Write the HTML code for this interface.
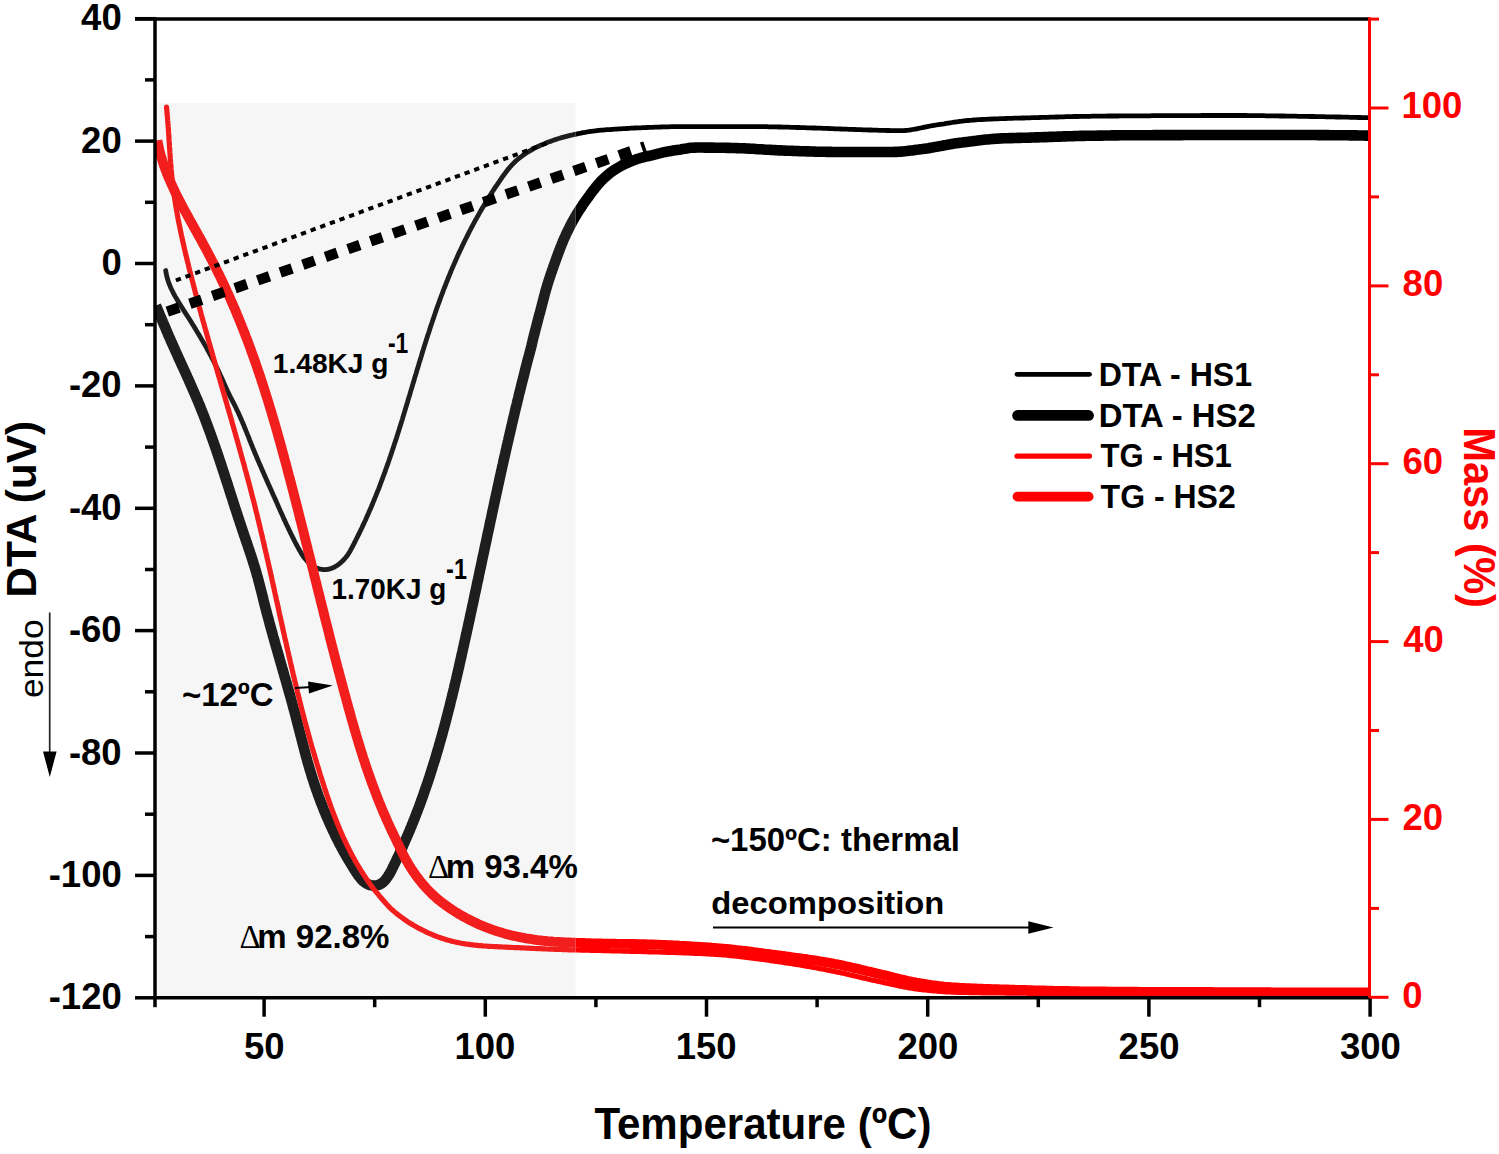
<!DOCTYPE html>
<html><head><meta charset="utf-8"><style>
html,body{margin:0;padding:0;background:#fff;width:1499px;height:1154px;overflow:hidden}
svg{display:block}
</style></head><body>
<svg width="1499" height="1154" viewBox="0 0 1499 1154">
<defs><clipPath id="cin"><rect x="155" y="103" width="420.5" height="895"/></clipPath><clipPath id="cout"><path d="M155,0H1370V998H155Z M155,103V998H575.5V103Z" clip-rule="evenodd"/></clipPath></defs>
<rect width="1499" height="1154" fill="#fff"/>
<rect x="155" y="103" width="420.5" height="895" fill="#f6f6f6"/>
<path d="M165.7,270.5 L166.0,272.5 L166.4,274.4 L166.8,276.4 L167.3,278.3 L167.9,280.2 L168.5,282.1 L169.2,284.0 L170.0,285.8 L170.7,287.7 L171.6,289.5 L172.5,291.3 L173.4,293.1 L174.3,294.8 L175.3,296.6 L176.3,298.3 L177.3,300.0 L178.3,301.7 L179.4,303.5 L180.4,305.2 L181.5,306.8 L182.6,308.5 L183.6,310.2 L184.7,311.9 L185.8,313.6 L186.9,315.3 L188.0,317.0 L189.0,318.6 L190.1,320.3 L191.2,322.0 L192.2,323.7 L193.3,325.4 L194.3,327.1 L195.4,328.8 L196.4,330.6 L197.4,332.3 L198.5,334.0 L199.5,335.7 L200.5,337.4 L201.5,339.2 L202.5,340.9 L203.5,342.6 L204.5,344.4 L205.5,346.1 L206.5,347.8 L207.4,349.6 L208.4,351.3 L209.4,353.1 L210.3,354.9 L211.3,356.6 L212.2,358.4 L213.1,360.2 L214.0,361.9 L214.9,363.7 L215.8,365.5 L216.7,367.3 L217.6,369.1 L218.4,370.9 L219.3,372.7 L220.1,374.6 L220.9,376.4 L221.8,378.2 L222.6,380.0 L223.4,381.9 L224.2,383.7 L225.0,385.5 L225.8,387.3 L226.7,389.2 L227.5,391.0 L228.4,392.8 L229.2,394.6 L230.1,396.4 L231.0,398.2 L231.9,399.9 L232.8,401.7 L233.8,403.5 L234.7,405.3 L235.6,407.1 L236.4,408.9 L237.3,410.7 L238.2,412.5 L239.0,414.3 L239.8,416.1 L240.6,418.0 L241.4,419.8 L242.2,421.6 L243.0,423.5 L243.8,425.3 L244.5,427.2 L245.3,429.0 L246.0,430.9 L246.8,432.7 L247.5,434.6 L248.3,436.4 L249.0,438.3 L249.7,440.2 L250.5,442.0 L251.2,443.9 L252.0,445.7 L252.7,447.6 L253.5,449.5 L254.2,451.3 L255.0,453.2 L255.8,455.0 L256.5,456.8 L257.3,458.7 L258.1,460.5 L258.9,462.4 L259.7,464.2 L260.5,466.0 L261.3,467.9 L262.1,469.7 L262.9,471.5 L263.7,473.4 L264.5,475.2 L265.3,477.0 L266.1,478.9 L266.9,480.7 L267.7,482.5 L268.5,484.3 L269.4,486.2 L270.2,488.0 L271.0,489.8 L271.8,491.6 L272.6,493.5 L273.4,495.3 L274.3,497.1 L275.1,499.0 L275.9,500.8 L276.7,502.6 L277.5,504.4 L278.3,506.3 L279.1,508.1 L279.9,509.9 L280.7,511.8 L281.6,513.6 L282.4,515.4 L283.2,517.2 L284.0,519.1 L284.9,520.9 L285.7,522.7 L286.5,524.5 L287.4,526.3 L288.2,528.1 L289.1,529.9 L290.0,531.7 L290.8,533.5 L291.7,535.3 L292.6,537.1 L293.5,538.9 L294.4,540.7 L295.3,542.5 L296.2,544.3 L297.2,546.0 L298.1,547.8 L299.1,549.5 L300.1,551.3 L301.1,553.0 L302.1,554.7 L303.2,556.4 L304.4,558.0 L305.7,559.5 L307.0,561.0 L308.4,562.4 L309.8,563.8 L311.4,565.0 L313.0,566.1 L314.7,567.1 L316.5,567.9 L318.3,568.6 L320.2,569.1 L322.1,569.5 L324.1,569.6 L326.0,569.5 L327.9,569.3 L329.8,568.9 L331.7,568.2 L333.5,567.5 L335.3,566.6 L337.0,565.5 L338.6,564.4 L340.1,563.2 L341.6,561.9 L343.0,560.5 L344.4,559.0 L345.7,557.5 L346.9,556.0 L348.1,554.3 L349.1,552.7 L350.2,550.9 L351.1,549.2 L352.1,547.4 L353.0,545.6 L353.9,543.9 L354.8,542.1 L355.7,540.3 L356.6,538.5 L357.5,536.7 L358.4,534.9 L359.3,533.1 L360.2,531.3 L361.0,529.5 L361.9,527.7 L362.7,525.9 L363.6,524.1 L364.4,522.3 L365.3,520.5 L366.1,518.6 L366.9,516.8 L367.7,515.0 L368.5,513.2 L369.3,511.3 L370.1,509.5 L370.9,507.7 L371.7,505.8 L372.5,504.0 L373.2,502.1 L374.0,500.3 L374.7,498.4 L375.5,496.6 L376.2,494.7 L377.0,492.9 L377.7,491.0 L378.5,489.1 L379.2,487.3 L379.9,485.4 L380.6,483.5 L381.3,481.7 L382.0,479.8 L382.7,477.9 L383.4,476.0 L384.1,474.2 L384.8,472.3 L385.5,470.4 L386.1,468.5 L386.8,466.6 L387.5,464.7 L388.1,462.9 L388.8,461.0 L389.4,459.1 L390.1,457.2 L390.7,455.3 L391.4,453.4 L392.0,451.5 L392.6,449.6 L393.3,447.7 L393.9,445.8 L394.5,443.9 L395.1,442.0 L395.8,440.1 L396.4,438.2 L397.0,436.3 L397.6,434.4 L398.2,432.5 L398.8,430.6 L399.4,428.6 L400.0,426.7 L400.6,424.8 L401.2,422.9 L401.8,421.0 L402.4,419.1 L402.9,417.2 L403.5,415.3 L404.1,413.4 L404.7,411.4 L405.3,409.5 L405.8,407.6 L406.4,405.7 L407.0,403.8 L407.6,401.9 L408.1,399.9 L408.7,398.0 L409.3,396.1 L409.9,394.2 L410.4,392.3 L411.0,390.4 L411.6,388.4 L412.2,386.5 L412.7,384.6 L413.3,382.7 L413.9,380.8 L414.4,378.9 L415.0,376.9 L415.6,375.0 L416.2,373.1 L416.7,371.2 L417.3,369.3 L417.9,367.4 L418.5,365.4 L419.0,363.5 L419.6,361.6 L420.2,359.7 L420.8,357.8 L421.4,355.9 L421.9,354.0 L422.5,352.0 L423.1,350.1 L423.7,348.2 L424.3,346.3 L424.9,344.4 L425.5,342.5 L426.1,340.6 L426.7,338.7 L427.3,336.8 L427.9,334.9 L428.6,333.0 L429.2,331.1 L429.8,329.2 L430.4,327.3 L431.0,325.4 L431.7,323.5 L432.3,321.6 L432.9,319.7 L433.6,317.8 L434.2,315.9 L434.9,314.0 L435.5,312.1 L436.2,310.2 L436.8,308.3 L437.5,306.4 L438.2,304.5 L438.9,302.7 L439.5,300.8 L440.2,298.9 L440.9,297.0 L441.6,295.1 L442.3,293.3 L443.0,291.4 L443.7,289.5 L444.4,287.7 L445.2,285.8 L445.9,283.9 L446.6,282.1 L447.4,280.2 L448.1,278.3 L448.9,276.5 L449.6,274.6 L450.4,272.8 L451.1,270.9 L451.9,269.1 L452.7,267.3 L453.5,265.4 L454.3,263.6 L455.1,261.7 L455.9,259.9 L456.7,258.1 L457.5,256.3 L458.3,254.4 L459.2,252.6 L460.0,250.8 L460.9,249.0 L461.7,247.2 L462.6,245.4 L463.4,243.6 L464.3,241.8 L465.2,240.0 L466.1,238.2 L467.0,236.4 L467.9,234.6 L468.8,232.8 L469.7,231.0 L470.6,229.3 L471.5,227.5 L472.5,225.7 L473.4,224.0 L474.4,222.2 L475.3,220.4 L476.3,218.7 L477.3,216.9 L478.3,215.2 L479.2,213.5 L480.2,211.7 L481.2,210.0 L482.2,208.3 L483.3,206.5 L484.3,204.8 L485.3,203.1 L486.4,201.4 L487.4,199.7 L488.5,198.0 L489.5,196.3 L490.6,194.6 L491.7,192.9 L492.7,191.2 L493.8,189.6 L494.9,187.9 L496.0,186.2 L497.2,184.6 L498.3,182.9 L499.4,181.3 L500.5,179.6 L501.7,178.0 L502.8,176.3 L504.0,174.7 L505.2,173.1 L506.4,171.5 L507.6,169.9 L508.9,168.4 L510.2,166.8 L511.5,165.4 L512.9,163.9 L514.3,162.5 L515.8,161.1 L517.2,159.8 L518.8,158.5 L520.3,157.3 L521.9,156.1 L523.5,154.9 L525.2,153.8 L526.8,152.7 L528.5,151.6 L530.3,150.6 L532.0,149.6 L533.7,148.6 L535.5,147.7 L537.3,146.8 L539.1,146.0 L540.9,145.1 L542.8,144.4 L544.6,143.6 L546.5,142.8 L548.3,142.1 L550.2,141.4 L552.1,140.7 L554.0,140.0 L555.9,139.4 L557.8,138.7 L559.7,138.2 L561.6,137.6 L563.5,137.1 L565.5,136.6 L567.4,136.1 L569.3,135.6 L571.3,135.2 L573.2,134.7 L575.2,134.3 L577.2,133.9 L579.1,133.5 L581.1,133.1 L583.0,132.7 L585.0,132.4 L587.0,132.0 L589.0,131.7 L590.9,131.4 L592.9,131.1 L594.9,130.9 L596.9,130.6 L598.9,130.4 L600.9,130.2 L602.9,130.1 L604.9,129.9 L606.8,129.7 L608.8,129.6 L610.8,129.5 L612.8,129.3 L614.8,129.2 L616.8,129.1 L618.8,128.9 L620.8,128.8 L622.8,128.7 L624.8,128.6 L626.8,128.5 L628.8,128.4 L630.8,128.2 L632.8,128.1 L634.8,128.0 L636.8,127.9 L638.8,127.8 L640.8,127.8 L642.8,127.7 L644.8,127.6 L646.8,127.5 L648.8,127.4 L650.8,127.4 L652.8,127.3 L654.8,127.2 L656.8,127.1 L658.8,127.1 L660.8,127.0 L662.8,126.9 L664.8,126.9 L666.8,126.8 L668.8,126.8 L670.8,126.7 L672.8,126.7 L674.8,126.7 L676.8,126.6 L678.8,126.6 L680.8,126.6 L682.8,126.6 L684.8,126.6 L686.8,126.6 L688.8,126.6 L690.8,126.6 L692.8,126.6 L694.8,126.7 L696.8,126.7 L698.8,126.7 L700.8,126.7 L702.8,126.7 L704.8,126.7 L706.8,126.7 L708.8,126.7 L710.8,126.7 L712.8,126.7 L714.8,126.7 L716.8,126.7 L718.8,126.7 L720.8,126.7 L722.8,126.7 L724.8,126.7 L726.8,126.7 L728.8,126.7 L730.8,126.7 L732.8,126.7 L734.8,126.7 L736.8,126.7 L738.8,126.7 L740.8,126.7 L742.8,126.7 L744.8,126.7 L746.8,126.7 L748.8,126.7 L750.8,126.7 L752.8,126.7 L754.8,126.7 L756.8,126.7 L758.8,126.7 L760.8,126.7 L762.8,126.7 L764.8,126.7 L766.8,126.7 L768.8,126.8 L770.8,126.8 L772.8,126.8 L774.8,126.9 L776.8,126.9 L778.8,127.0 L780.8,127.0 L782.8,127.1 L784.8,127.1 L786.8,127.2 L788.8,127.2 L790.8,127.3 L792.8,127.3 L794.8,127.4 L796.8,127.5 L798.8,127.5 L800.8,127.6 L802.8,127.7 L804.8,127.7 L806.8,127.8 L808.8,127.9 L810.8,127.9 L812.8,128.0 L814.8,128.0 L816.8,128.1 L818.8,128.2 L820.8,128.2 L822.8,128.3 L824.8,128.4 L826.8,128.4 L828.8,128.5 L830.8,128.6 L832.8,128.7 L834.8,128.8 L836.8,128.8 L838.8,128.9 L840.8,129.0 L842.8,129.1 L844.8,129.1 L846.8,129.2 L848.8,129.3 L850.8,129.4 L852.8,129.4 L854.8,129.5 L856.8,129.6 L858.8,129.6 L860.8,129.7 L862.8,129.8 L864.8,129.8 L866.8,129.9 L868.8,130.0 L870.8,130.0 L872.8,130.1 L874.8,130.1 L876.8,130.2 L878.8,130.3 L880.8,130.3 L882.8,130.4 L884.8,130.4 L886.8,130.5 L888.8,130.5 L890.8,130.6 L892.8,130.6 L894.8,130.6 L896.8,130.7 L898.8,130.7 L900.8,130.6 L902.8,130.6 L904.8,130.5 L906.8,130.3 L908.8,130.1 L910.7,129.8 L912.7,129.5 L914.7,129.2 L916.7,128.8 L918.6,128.4 L920.6,128.0 L922.5,127.6 L924.5,127.2 L926.4,126.8 L928.4,126.4 L930.4,126.0 L932.3,125.6 L934.3,125.3 L936.3,125.0 L938.3,124.7 L940.2,124.4 L942.2,124.1 L944.2,123.8 L946.2,123.4 L948.2,123.1 L950.1,122.8 L952.1,122.5 L954.1,122.2 L956.1,122.0 L958.1,121.7 L960.0,121.4 L962.0,121.2 L964.0,120.9 L966.0,120.7 L968.0,120.5 L970.0,120.3 L972.0,120.2 L974.0,120.0 L976.0,119.9 L978.0,119.7 L980.0,119.6 L981.9,119.5 L983.9,119.4 L985.9,119.3 L987.9,119.2 L989.9,119.1 L991.9,119.0 L993.9,118.9 L995.9,118.9 L997.9,118.8 L999.9,118.7 L1001.9,118.6 L1003.9,118.6 L1005.9,118.5 L1007.9,118.4 L1009.9,118.4 L1011.9,118.3 L1013.9,118.2 L1015.9,118.2 L1017.9,118.1 L1019.9,118.1 L1021.9,118.0 L1023.9,118.0 L1025.9,117.9 L1027.9,117.9 L1029.9,117.8 L1031.9,117.7 L1033.9,117.7 L1035.9,117.6 L1037.9,117.6 L1039.9,117.5 L1041.9,117.4 L1043.9,117.4 L1045.9,117.3 L1047.9,117.3 L1049.9,117.2 L1051.9,117.1 L1053.9,117.1 L1055.9,117.0 L1057.9,117.0 L1059.9,116.9 L1061.9,116.9 L1063.9,116.8 L1065.9,116.7 L1067.9,116.7 L1069.9,116.6 L1071.9,116.6 L1073.9,116.5 L1075.9,116.5 L1077.9,116.5 L1079.9,116.4 L1081.9,116.4 L1083.9,116.3 L1085.9,116.3 L1087.9,116.3 L1089.9,116.3 L1091.9,116.2 L1093.9,116.2 L1095.9,116.2 L1097.9,116.2 L1099.9,116.1 L1101.9,116.1 L1103.9,116.1 L1105.9,116.1 L1107.9,116.0 L1109.9,116.0 L1111.9,116.0 L1113.9,116.0 L1115.9,116.0 L1117.9,116.0 L1119.9,115.9 L1121.9,115.9 L1123.9,115.9 L1125.9,115.9 L1127.9,115.9 L1129.9,115.9 L1131.9,115.8 L1133.9,115.8 L1135.9,115.8 L1137.9,115.8 L1139.9,115.8 L1141.9,115.8 L1143.9,115.8 L1145.9,115.8 L1147.9,115.8 L1149.9,115.8 L1151.9,115.7 L1154.0,115.7 L1156.0,115.7 L1158.0,115.7 L1160.0,115.7 L1162.0,115.7 L1164.0,115.7 L1166.0,115.7 L1168.0,115.7 L1170.0,115.7 L1172.0,115.7 L1174.0,115.6 L1176.0,115.6 L1178.0,115.6 L1180.0,115.6 L1182.0,115.6 L1184.0,115.6 L1186.0,115.6 L1188.0,115.6 L1190.0,115.6 L1192.0,115.6 L1194.0,115.6 L1196.0,115.6 L1198.0,115.6 L1200.0,115.6 L1202.0,115.5 L1204.0,115.5 L1206.0,115.5 L1208.0,115.5 L1210.0,115.5 L1212.0,115.5 L1214.0,115.5 L1216.0,115.5 L1218.0,115.5 L1220.0,115.5 L1222.0,115.5 L1224.0,115.5 L1226.0,115.5 L1228.0,115.5 L1230.0,115.5 L1232.0,115.5 L1234.0,115.5 L1236.0,115.5 L1238.0,115.5 L1240.0,115.5 L1242.0,115.5 L1244.0,115.5 L1246.0,115.5 L1248.0,115.6 L1250.0,115.6 L1252.0,115.6 L1254.0,115.6 L1256.0,115.6 L1258.0,115.7 L1260.0,115.7 L1262.0,115.7 L1264.0,115.7 L1266.0,115.8 L1268.0,115.8 L1270.0,115.8 L1272.0,115.9 L1274.0,115.9 L1276.0,115.9 L1278.0,115.9 L1280.0,116.0 L1282.0,116.0 L1284.0,116.0 L1286.0,116.1 L1288.0,116.1 L1290.0,116.1 L1292.0,116.2 L1294.0,116.2 L1296.0,116.2 L1298.0,116.3 L1300.0,116.3 L1302.0,116.3 L1304.0,116.4 L1306.0,116.4 L1308.0,116.4 L1310.0,116.5 L1312.0,116.5 L1314.0,116.5 L1316.0,116.6 L1318.0,116.6 L1320.0,116.6 L1322.0,116.7 L1324.0,116.7 L1326.0,116.8 L1328.0,116.8 L1330.0,116.8 L1332.0,116.9 L1334.0,116.9 L1336.0,117.0 L1338.0,117.0 L1340.0,117.0 L1342.0,117.1 L1344.0,117.1 L1346.0,117.2 L1348.0,117.2 L1350.0,117.3 L1352.0,117.3 L1354.0,117.4 L1356.0,117.4 L1358.0,117.5 L1360.0,117.5 L1362.0,117.6 L1364.0,117.6 L1366.0,117.7 L1368.0,117.7" fill="none" stroke="#1e1e1e" stroke-width="4.8" stroke-linecap="round" stroke-linejoin="round" clip-path="url(#cin)"/>
<path d="M165.7,270.5 L166.0,272.5 L166.4,274.4 L166.8,276.4 L167.3,278.3 L167.9,280.2 L168.5,282.1 L169.2,284.0 L170.0,285.8 L170.7,287.7 L171.6,289.5 L172.5,291.3 L173.4,293.1 L174.3,294.8 L175.3,296.6 L176.3,298.3 L177.3,300.0 L178.3,301.7 L179.4,303.5 L180.4,305.2 L181.5,306.8 L182.6,308.5 L183.6,310.2 L184.7,311.9 L185.8,313.6 L186.9,315.3 L188.0,317.0 L189.0,318.6 L190.1,320.3 L191.2,322.0 L192.2,323.7 L193.3,325.4 L194.3,327.1 L195.4,328.8 L196.4,330.6 L197.4,332.3 L198.5,334.0 L199.5,335.7 L200.5,337.4 L201.5,339.2 L202.5,340.9 L203.5,342.6 L204.5,344.4 L205.5,346.1 L206.5,347.8 L207.4,349.6 L208.4,351.3 L209.4,353.1 L210.3,354.9 L211.3,356.6 L212.2,358.4 L213.1,360.2 L214.0,361.9 L214.9,363.7 L215.8,365.5 L216.7,367.3 L217.6,369.1 L218.4,370.9 L219.3,372.7 L220.1,374.6 L220.9,376.4 L221.8,378.2 L222.6,380.0 L223.4,381.9 L224.2,383.7 L225.0,385.5 L225.8,387.3 L226.7,389.2 L227.5,391.0 L228.4,392.8 L229.2,394.6 L230.1,396.4 L231.0,398.2 L231.9,399.9 L232.8,401.7 L233.8,403.5 L234.7,405.3 L235.6,407.1 L236.4,408.9 L237.3,410.7 L238.2,412.5 L239.0,414.3 L239.8,416.1 L240.6,418.0 L241.4,419.8 L242.2,421.6 L243.0,423.5 L243.8,425.3 L244.5,427.2 L245.3,429.0 L246.0,430.9 L246.8,432.7 L247.5,434.6 L248.3,436.4 L249.0,438.3 L249.7,440.2 L250.5,442.0 L251.2,443.9 L252.0,445.7 L252.7,447.6 L253.5,449.5 L254.2,451.3 L255.0,453.2 L255.8,455.0 L256.5,456.8 L257.3,458.7 L258.1,460.5 L258.9,462.4 L259.7,464.2 L260.5,466.0 L261.3,467.9 L262.1,469.7 L262.9,471.5 L263.7,473.4 L264.5,475.2 L265.3,477.0 L266.1,478.9 L266.9,480.7 L267.7,482.5 L268.5,484.3 L269.4,486.2 L270.2,488.0 L271.0,489.8 L271.8,491.6 L272.6,493.5 L273.4,495.3 L274.3,497.1 L275.1,499.0 L275.9,500.8 L276.7,502.6 L277.5,504.4 L278.3,506.3 L279.1,508.1 L279.9,509.9 L280.7,511.8 L281.6,513.6 L282.4,515.4 L283.2,517.2 L284.0,519.1 L284.9,520.9 L285.7,522.7 L286.5,524.5 L287.4,526.3 L288.2,528.1 L289.1,529.9 L290.0,531.7 L290.8,533.5 L291.7,535.3 L292.6,537.1 L293.5,538.9 L294.4,540.7 L295.3,542.5 L296.2,544.3 L297.2,546.0 L298.1,547.8 L299.1,549.5 L300.1,551.3 L301.1,553.0 L302.1,554.7 L303.2,556.4 L304.4,558.0 L305.7,559.5 L307.0,561.0 L308.4,562.4 L309.8,563.8 L311.4,565.0 L313.0,566.1 L314.7,567.1 L316.5,567.9 L318.3,568.6 L320.2,569.1 L322.1,569.5 L324.1,569.6 L326.0,569.5 L327.9,569.3 L329.8,568.9 L331.7,568.2 L333.5,567.5 L335.3,566.6 L337.0,565.5 L338.6,564.4 L340.1,563.2 L341.6,561.9 L343.0,560.5 L344.4,559.0 L345.7,557.5 L346.9,556.0 L348.1,554.3 L349.1,552.7 L350.2,550.9 L351.1,549.2 L352.1,547.4 L353.0,545.6 L353.9,543.9 L354.8,542.1 L355.7,540.3 L356.6,538.5 L357.5,536.7 L358.4,534.9 L359.3,533.1 L360.2,531.3 L361.0,529.5 L361.9,527.7 L362.7,525.9 L363.6,524.1 L364.4,522.3 L365.3,520.5 L366.1,518.6 L366.9,516.8 L367.7,515.0 L368.5,513.2 L369.3,511.3 L370.1,509.5 L370.9,507.7 L371.7,505.8 L372.5,504.0 L373.2,502.1 L374.0,500.3 L374.7,498.4 L375.5,496.6 L376.2,494.7 L377.0,492.9 L377.7,491.0 L378.5,489.1 L379.2,487.3 L379.9,485.4 L380.6,483.5 L381.3,481.7 L382.0,479.8 L382.7,477.9 L383.4,476.0 L384.1,474.2 L384.8,472.3 L385.5,470.4 L386.1,468.5 L386.8,466.6 L387.5,464.7 L388.1,462.9 L388.8,461.0 L389.4,459.1 L390.1,457.2 L390.7,455.3 L391.4,453.4 L392.0,451.5 L392.6,449.6 L393.3,447.7 L393.9,445.8 L394.5,443.9 L395.1,442.0 L395.8,440.1 L396.4,438.2 L397.0,436.3 L397.6,434.4 L398.2,432.5 L398.8,430.6 L399.4,428.6 L400.0,426.7 L400.6,424.8 L401.2,422.9 L401.8,421.0 L402.4,419.1 L402.9,417.2 L403.5,415.3 L404.1,413.4 L404.7,411.4 L405.3,409.5 L405.8,407.6 L406.4,405.7 L407.0,403.8 L407.6,401.9 L408.1,399.9 L408.7,398.0 L409.3,396.1 L409.9,394.2 L410.4,392.3 L411.0,390.4 L411.6,388.4 L412.2,386.5 L412.7,384.6 L413.3,382.7 L413.9,380.8 L414.4,378.9 L415.0,376.9 L415.6,375.0 L416.2,373.1 L416.7,371.2 L417.3,369.3 L417.9,367.4 L418.5,365.4 L419.0,363.5 L419.6,361.6 L420.2,359.7 L420.8,357.8 L421.4,355.9 L421.9,354.0 L422.5,352.0 L423.1,350.1 L423.7,348.2 L424.3,346.3 L424.9,344.4 L425.5,342.5 L426.1,340.6 L426.7,338.7 L427.3,336.8 L427.9,334.9 L428.6,333.0 L429.2,331.1 L429.8,329.2 L430.4,327.3 L431.0,325.4 L431.7,323.5 L432.3,321.6 L432.9,319.7 L433.6,317.8 L434.2,315.9 L434.9,314.0 L435.5,312.1 L436.2,310.2 L436.8,308.3 L437.5,306.4 L438.2,304.5 L438.9,302.7 L439.5,300.8 L440.2,298.9 L440.9,297.0 L441.6,295.1 L442.3,293.3 L443.0,291.4 L443.7,289.5 L444.4,287.7 L445.2,285.8 L445.9,283.9 L446.6,282.1 L447.4,280.2 L448.1,278.3 L448.9,276.5 L449.6,274.6 L450.4,272.8 L451.1,270.9 L451.9,269.1 L452.7,267.3 L453.5,265.4 L454.3,263.6 L455.1,261.7 L455.9,259.9 L456.7,258.1 L457.5,256.3 L458.3,254.4 L459.2,252.6 L460.0,250.8 L460.9,249.0 L461.7,247.2 L462.6,245.4 L463.4,243.6 L464.3,241.8 L465.2,240.0 L466.1,238.2 L467.0,236.4 L467.9,234.6 L468.8,232.8 L469.7,231.0 L470.6,229.3 L471.5,227.5 L472.5,225.7 L473.4,224.0 L474.4,222.2 L475.3,220.4 L476.3,218.7 L477.3,216.9 L478.3,215.2 L479.2,213.5 L480.2,211.7 L481.2,210.0 L482.2,208.3 L483.3,206.5 L484.3,204.8 L485.3,203.1 L486.4,201.4 L487.4,199.7 L488.5,198.0 L489.5,196.3 L490.6,194.6 L491.7,192.9 L492.7,191.2 L493.8,189.6 L494.9,187.9 L496.0,186.2 L497.2,184.6 L498.3,182.9 L499.4,181.3 L500.5,179.6 L501.7,178.0 L502.8,176.3 L504.0,174.7 L505.2,173.1 L506.4,171.5 L507.6,169.9 L508.9,168.4 L510.2,166.8 L511.5,165.4 L512.9,163.9 L514.3,162.5 L515.8,161.1 L517.2,159.8 L518.8,158.5 L520.3,157.3 L521.9,156.1 L523.5,154.9 L525.2,153.8 L526.8,152.7 L528.5,151.6 L530.3,150.6 L532.0,149.6 L533.7,148.6 L535.5,147.7 L537.3,146.8 L539.1,146.0 L540.9,145.1 L542.8,144.4 L544.6,143.6 L546.5,142.8 L548.3,142.1 L550.2,141.4 L552.1,140.7 L554.0,140.0 L555.9,139.4 L557.8,138.7 L559.7,138.2 L561.6,137.6 L563.5,137.1 L565.5,136.6 L567.4,136.1 L569.3,135.6 L571.3,135.2 L573.2,134.7 L575.2,134.3 L577.2,133.9 L579.1,133.5 L581.1,133.1 L583.0,132.7 L585.0,132.4 L587.0,132.0 L589.0,131.7 L590.9,131.4 L592.9,131.1 L594.9,130.9 L596.9,130.6 L598.9,130.4 L600.9,130.2 L602.9,130.1 L604.9,129.9 L606.8,129.7 L608.8,129.6 L610.8,129.5 L612.8,129.3 L614.8,129.2 L616.8,129.1 L618.8,128.9 L620.8,128.8 L622.8,128.7 L624.8,128.6 L626.8,128.5 L628.8,128.4 L630.8,128.2 L632.8,128.1 L634.8,128.0 L636.8,127.9 L638.8,127.8 L640.8,127.8 L642.8,127.7 L644.8,127.6 L646.8,127.5 L648.8,127.4 L650.8,127.4 L652.8,127.3 L654.8,127.2 L656.8,127.1 L658.8,127.1 L660.8,127.0 L662.8,126.9 L664.8,126.9 L666.8,126.8 L668.8,126.8 L670.8,126.7 L672.8,126.7 L674.8,126.7 L676.8,126.6 L678.8,126.6 L680.8,126.6 L682.8,126.6 L684.8,126.6 L686.8,126.6 L688.8,126.6 L690.8,126.6 L692.8,126.6 L694.8,126.7 L696.8,126.7 L698.8,126.7 L700.8,126.7 L702.8,126.7 L704.8,126.7 L706.8,126.7 L708.8,126.7 L710.8,126.7 L712.8,126.7 L714.8,126.7 L716.8,126.7 L718.8,126.7 L720.8,126.7 L722.8,126.7 L724.8,126.7 L726.8,126.7 L728.8,126.7 L730.8,126.7 L732.8,126.7 L734.8,126.7 L736.8,126.7 L738.8,126.7 L740.8,126.7 L742.8,126.7 L744.8,126.7 L746.8,126.7 L748.8,126.7 L750.8,126.7 L752.8,126.7 L754.8,126.7 L756.8,126.7 L758.8,126.7 L760.8,126.7 L762.8,126.7 L764.8,126.7 L766.8,126.7 L768.8,126.8 L770.8,126.8 L772.8,126.8 L774.8,126.9 L776.8,126.9 L778.8,127.0 L780.8,127.0 L782.8,127.1 L784.8,127.1 L786.8,127.2 L788.8,127.2 L790.8,127.3 L792.8,127.3 L794.8,127.4 L796.8,127.5 L798.8,127.5 L800.8,127.6 L802.8,127.7 L804.8,127.7 L806.8,127.8 L808.8,127.9 L810.8,127.9 L812.8,128.0 L814.8,128.0 L816.8,128.1 L818.8,128.2 L820.8,128.2 L822.8,128.3 L824.8,128.4 L826.8,128.4 L828.8,128.5 L830.8,128.6 L832.8,128.7 L834.8,128.8 L836.8,128.8 L838.8,128.9 L840.8,129.0 L842.8,129.1 L844.8,129.1 L846.8,129.2 L848.8,129.3 L850.8,129.4 L852.8,129.4 L854.8,129.5 L856.8,129.6 L858.8,129.6 L860.8,129.7 L862.8,129.8 L864.8,129.8 L866.8,129.9 L868.8,130.0 L870.8,130.0 L872.8,130.1 L874.8,130.1 L876.8,130.2 L878.8,130.3 L880.8,130.3 L882.8,130.4 L884.8,130.4 L886.8,130.5 L888.8,130.5 L890.8,130.6 L892.8,130.6 L894.8,130.6 L896.8,130.7 L898.8,130.7 L900.8,130.6 L902.8,130.6 L904.8,130.5 L906.8,130.3 L908.8,130.1 L910.7,129.8 L912.7,129.5 L914.7,129.2 L916.7,128.8 L918.6,128.4 L920.6,128.0 L922.5,127.6 L924.5,127.2 L926.4,126.8 L928.4,126.4 L930.4,126.0 L932.3,125.6 L934.3,125.3 L936.3,125.0 L938.3,124.7 L940.2,124.4 L942.2,124.1 L944.2,123.8 L946.2,123.4 L948.2,123.1 L950.1,122.8 L952.1,122.5 L954.1,122.2 L956.1,122.0 L958.1,121.7 L960.0,121.4 L962.0,121.2 L964.0,120.9 L966.0,120.7 L968.0,120.5 L970.0,120.3 L972.0,120.2 L974.0,120.0 L976.0,119.9 L978.0,119.7 L980.0,119.6 L981.9,119.5 L983.9,119.4 L985.9,119.3 L987.9,119.2 L989.9,119.1 L991.9,119.0 L993.9,118.9 L995.9,118.9 L997.9,118.8 L999.9,118.7 L1001.9,118.6 L1003.9,118.6 L1005.9,118.5 L1007.9,118.4 L1009.9,118.4 L1011.9,118.3 L1013.9,118.2 L1015.9,118.2 L1017.9,118.1 L1019.9,118.1 L1021.9,118.0 L1023.9,118.0 L1025.9,117.9 L1027.9,117.9 L1029.9,117.8 L1031.9,117.7 L1033.9,117.7 L1035.9,117.6 L1037.9,117.6 L1039.9,117.5 L1041.9,117.4 L1043.9,117.4 L1045.9,117.3 L1047.9,117.3 L1049.9,117.2 L1051.9,117.1 L1053.9,117.1 L1055.9,117.0 L1057.9,117.0 L1059.9,116.9 L1061.9,116.9 L1063.9,116.8 L1065.9,116.7 L1067.9,116.7 L1069.9,116.6 L1071.9,116.6 L1073.9,116.5 L1075.9,116.5 L1077.9,116.5 L1079.9,116.4 L1081.9,116.4 L1083.9,116.3 L1085.9,116.3 L1087.9,116.3 L1089.9,116.3 L1091.9,116.2 L1093.9,116.2 L1095.9,116.2 L1097.9,116.2 L1099.9,116.1 L1101.9,116.1 L1103.9,116.1 L1105.9,116.1 L1107.9,116.0 L1109.9,116.0 L1111.9,116.0 L1113.9,116.0 L1115.9,116.0 L1117.9,116.0 L1119.9,115.9 L1121.9,115.9 L1123.9,115.9 L1125.9,115.9 L1127.9,115.9 L1129.9,115.9 L1131.9,115.8 L1133.9,115.8 L1135.9,115.8 L1137.9,115.8 L1139.9,115.8 L1141.9,115.8 L1143.9,115.8 L1145.9,115.8 L1147.9,115.8 L1149.9,115.8 L1151.9,115.7 L1154.0,115.7 L1156.0,115.7 L1158.0,115.7 L1160.0,115.7 L1162.0,115.7 L1164.0,115.7 L1166.0,115.7 L1168.0,115.7 L1170.0,115.7 L1172.0,115.7 L1174.0,115.6 L1176.0,115.6 L1178.0,115.6 L1180.0,115.6 L1182.0,115.6 L1184.0,115.6 L1186.0,115.6 L1188.0,115.6 L1190.0,115.6 L1192.0,115.6 L1194.0,115.6 L1196.0,115.6 L1198.0,115.6 L1200.0,115.6 L1202.0,115.5 L1204.0,115.5 L1206.0,115.5 L1208.0,115.5 L1210.0,115.5 L1212.0,115.5 L1214.0,115.5 L1216.0,115.5 L1218.0,115.5 L1220.0,115.5 L1222.0,115.5 L1224.0,115.5 L1226.0,115.5 L1228.0,115.5 L1230.0,115.5 L1232.0,115.5 L1234.0,115.5 L1236.0,115.5 L1238.0,115.5 L1240.0,115.5 L1242.0,115.5 L1244.0,115.5 L1246.0,115.5 L1248.0,115.6 L1250.0,115.6 L1252.0,115.6 L1254.0,115.6 L1256.0,115.6 L1258.0,115.7 L1260.0,115.7 L1262.0,115.7 L1264.0,115.7 L1266.0,115.8 L1268.0,115.8 L1270.0,115.8 L1272.0,115.9 L1274.0,115.9 L1276.0,115.9 L1278.0,115.9 L1280.0,116.0 L1282.0,116.0 L1284.0,116.0 L1286.0,116.1 L1288.0,116.1 L1290.0,116.1 L1292.0,116.2 L1294.0,116.2 L1296.0,116.2 L1298.0,116.3 L1300.0,116.3 L1302.0,116.3 L1304.0,116.4 L1306.0,116.4 L1308.0,116.4 L1310.0,116.5 L1312.0,116.5 L1314.0,116.5 L1316.0,116.6 L1318.0,116.6 L1320.0,116.6 L1322.0,116.7 L1324.0,116.7 L1326.0,116.8 L1328.0,116.8 L1330.0,116.8 L1332.0,116.9 L1334.0,116.9 L1336.0,117.0 L1338.0,117.0 L1340.0,117.0 L1342.0,117.1 L1344.0,117.1 L1346.0,117.2 L1348.0,117.2 L1350.0,117.3 L1352.0,117.3 L1354.0,117.4 L1356.0,117.4 L1358.0,117.5 L1360.0,117.5 L1362.0,117.6 L1364.0,117.6 L1366.0,117.7 L1368.0,117.7" fill="none" stroke="#000" stroke-width="4.8" stroke-linecap="round" stroke-linejoin="round" clip-path="url(#cout)"/>
<path d="M155.9,305.6 L156.7,307.4 L157.5,309.3 L158.3,311.1 L159.0,313.0 L159.8,314.8 L160.6,316.7 L161.4,318.5 L162.2,320.3 L162.9,322.2 L163.7,324.0 L164.5,325.9 L165.3,327.7 L166.1,329.6 L166.8,331.4 L167.6,333.2 L168.4,335.1 L169.2,336.9 L170.0,338.7 L170.8,340.6 L171.6,342.4 L172.5,344.2 L173.3,346.1 L174.1,347.9 L174.9,349.7 L175.7,351.5 L176.6,353.3 L177.4,355.2 L178.2,357.0 L179.0,358.8 L179.9,360.6 L180.7,362.5 L181.5,364.3 L182.4,366.1 L183.2,367.9 L184.0,369.7 L184.9,371.6 L185.7,373.4 L186.5,375.2 L187.3,377.0 L188.2,378.8 L189.0,380.7 L189.8,382.5 L190.6,384.3 L191.4,386.1 L192.2,388.0 L193.0,389.8 L193.8,391.6 L194.6,393.5 L195.4,395.3 L196.2,397.2 L197.0,399.0 L197.8,400.8 L198.5,402.7 L199.3,404.5 L200.1,406.4 L200.8,408.3 L201.5,410.1 L202.3,412.0 L203.0,413.8 L203.8,415.7 L204.5,417.6 L205.2,419.4 L205.9,421.3 L206.6,423.2 L207.3,425.0 L208.0,426.9 L208.7,428.8 L209.4,430.7 L210.1,432.6 L210.8,434.4 L211.4,436.3 L212.1,438.2 L212.8,440.1 L213.4,442.0 L214.1,443.9 L214.8,445.8 L215.4,447.6 L216.1,449.5 L216.7,451.4 L217.4,453.3 L218.0,455.2 L218.6,457.1 L219.3,459.0 L219.9,460.9 L220.5,462.8 L221.2,464.7 L221.8,466.6 L222.4,468.5 L223.0,470.4 L223.7,472.3 L224.3,474.2 L224.9,476.1 L225.5,478.0 L226.1,479.9 L226.8,481.8 L227.4,483.7 L228.0,485.6 L228.6,487.5 L229.2,489.4 L229.8,491.3 L230.4,493.3 L231.0,495.2 L231.7,497.1 L232.3,499.0 L232.9,500.9 L233.5,502.8 L234.1,504.7 L234.7,506.6 L235.3,508.5 L236.0,510.4 L236.6,512.3 L237.2,514.2 L237.8,516.1 L238.4,518.0 L239.1,519.9 L239.7,521.8 L240.3,523.7 L241.0,525.6 L241.6,527.5 L242.2,529.4 L242.9,531.3 L243.5,533.2 L244.1,535.1 L244.8,537.0 L245.4,538.9 L246.1,540.8 L246.7,542.7 L247.4,544.6 L248.0,546.4 L248.6,548.3 L249.3,550.2 L249.9,552.1 L250.5,554.0 L251.2,555.9 L251.8,557.8 L252.4,559.7 L253.0,561.7 L253.6,563.6 L254.2,565.5 L254.8,567.4 L255.4,569.3 L255.9,571.2 L256.5,573.1 L257.0,575.1 L257.6,577.0 L258.1,578.9 L258.6,580.9 L259.1,582.8 L259.6,584.7 L260.1,586.7 L260.6,588.6 L261.1,590.5 L261.6,592.5 L262.1,594.4 L262.6,596.4 L263.1,598.3 L263.5,600.2 L264.0,602.2 L264.5,604.1 L265.0,606.1 L265.5,608.0 L266.0,609.9 L266.5,611.9 L267.0,613.8 L267.5,615.7 L268.1,617.7 L268.6,619.6 L269.1,621.5 L269.6,623.5 L270.1,625.4 L270.7,627.3 L271.2,629.3 L271.7,631.2 L272.3,633.1 L272.8,635.0 L273.3,637.0 L273.9,638.9 L274.4,640.8 L275.0,642.8 L275.5,644.7 L276.1,646.6 L276.6,648.5 L277.2,650.5 L277.7,652.4 L278.3,654.3 L278.8,656.2 L279.4,658.1 L279.9,660.1 L280.5,662.0 L281.0,663.9 L281.6,665.8 L282.1,667.8 L282.7,669.7 L283.2,671.6 L283.8,673.5 L284.3,675.4 L284.9,677.4 L285.5,679.3 L286.0,681.2 L286.6,683.1 L287.1,685.1 L287.6,687.0 L288.2,688.9 L288.7,690.8 L289.3,692.8 L289.8,694.7 L290.4,696.6 L290.9,698.5 L291.4,700.5 L292.0,702.4 L292.5,704.3 L293.0,706.3 L293.5,708.2 L294.1,710.1 L294.6,712.1 L295.1,714.0 L295.6,715.9 L296.1,717.9 L296.6,719.8 L297.1,721.7 L297.6,723.7 L298.1,725.6 L298.6,727.6 L299.1,729.5 L299.6,731.4 L300.1,733.4 L300.6,735.3 L301.1,737.2 L301.6,739.2 L302.1,741.1 L302.6,743.1 L303.1,745.0 L303.6,746.9 L304.1,748.9 L304.6,750.8 L305.1,752.7 L305.6,754.7 L306.1,756.6 L306.7,758.5 L307.2,760.5 L307.7,762.4 L308.3,764.3 L308.9,766.2 L309.4,768.2 L310.0,770.1 L310.6,772.0 L311.2,773.9 L311.7,775.8 L312.3,777.7 L313.0,779.6 L313.6,781.5 L314.2,783.4 L314.8,785.3 L315.5,787.2 L316.1,789.1 L316.8,791.0 L317.5,792.9 L318.1,794.8 L318.8,796.6 L319.5,798.5 L320.2,800.4 L320.9,802.3 L321.6,804.1 L322.4,806.0 L323.1,807.9 L323.8,809.7 L324.6,811.6 L325.4,813.4 L326.1,815.3 L326.9,817.1 L327.7,818.9 L328.5,820.8 L329.3,822.6 L330.1,824.4 L331.0,826.3 L331.8,828.1 L332.6,829.9 L333.5,831.7 L334.4,833.5 L335.2,835.3 L336.1,837.1 L337.0,838.9 L337.9,840.7 L338.8,842.5 L339.7,844.2 L340.7,846.0 L341.6,847.8 L342.6,849.5 L343.5,851.3 L344.5,853.0 L345.5,854.8 L346.5,856.5 L347.5,858.2 L348.5,859.9 L349.6,861.6 L350.6,863.4 L351.7,865.1 L352.7,866.8 L353.8,868.5 L354.8,870.2 L355.9,871.9 L357.0,873.5 L358.1,875.2 L359.3,876.8 L360.5,878.3 L361.8,879.8 L363.2,881.2 L364.7,882.4 L366.3,883.5 L368.0,884.3 L369.8,885.0 L371.7,885.4 L373.6,885.6 L375.5,885.5 L377.4,885.2 L379.2,884.6 L380.9,883.8 L382.5,882.7 L383.9,881.5 L385.2,880.1 L386.4,878.5 L387.6,876.9 L388.7,875.2 L389.7,873.5 L390.7,871.8 L391.6,870.0 L392.5,868.2 L393.4,866.4 L394.2,864.6 L395.1,862.8 L396.0,861.0 L396.8,859.2 L397.7,857.4 L398.6,855.6 L399.4,853.8 L400.2,852.0 L401.1,850.2 L401.9,848.3 L402.7,846.5 L403.5,844.7 L404.3,842.9 L405.1,841.0 L405.9,839.2 L406.7,837.4 L407.5,835.5 L408.3,833.7 L409.1,831.8 L409.9,830.0 L410.6,828.1 L411.4,826.3 L412.1,824.4 L412.9,822.6 L413.6,820.7 L414.4,818.9 L415.1,817.0 L415.8,815.1 L416.5,813.3 L417.3,811.4 L418.0,809.5 L418.7,807.7 L419.4,805.8 L420.1,803.9 L420.8,802.0 L421.4,800.2 L422.1,798.3 L422.8,796.4 L423.5,794.5 L424.1,792.6 L424.8,790.7 L425.4,788.8 L426.1,786.9 L426.7,785.1 L427.4,783.2 L428.0,781.3 L428.6,779.4 L429.3,777.5 L429.9,775.6 L430.5,773.7 L431.1,771.7 L431.7,769.8 L432.3,767.9 L432.9,766.0 L433.5,764.1 L434.1,762.2 L434.7,760.3 L435.3,758.4 L435.9,756.5 L436.4,754.5 L437.0,752.6 L437.6,750.7 L438.1,748.8 L438.7,746.9 L439.2,744.9 L439.8,743.0 L440.3,741.1 L440.9,739.2 L441.4,737.2 L442.0,735.3 L442.5,733.4 L443.0,731.5 L443.5,729.5 L444.1,727.6 L444.6,725.7 L445.1,723.7 L445.6,721.8 L446.1,719.9 L446.6,717.9 L447.1,716.0 L447.6,714.0 L448.1,712.1 L448.6,710.2 L449.1,708.2 L449.6,706.3 L450.1,704.3 L450.5,702.4 L451.0,700.5 L451.5,698.5 L452.0,696.6 L452.5,694.6 L452.9,692.7 L453.4,690.7 L453.9,688.8 L454.3,686.8 L454.8,684.9 L455.2,683.0 L455.7,681.0 L456.2,679.1 L456.6,677.1 L457.1,675.2 L457.5,673.2 L458.0,671.3 L458.4,669.3 L458.9,667.4 L459.3,665.4 L459.7,663.5 L460.2,661.5 L460.6,659.6 L461.1,657.6 L461.5,655.6 L461.9,653.7 L462.4,651.7 L462.8,649.8 L463.2,647.8 L463.7,645.9 L464.1,643.9 L464.5,642.0 L465.0,640.0 L465.4,638.1 L465.8,636.1 L466.3,634.2 L466.7,632.2 L467.1,630.3 L467.6,628.3 L468.0,626.3 L468.4,624.4 L468.8,622.4 L469.3,620.5 L469.7,618.5 L470.1,616.6 L470.5,614.6 L470.9,612.7 L471.4,610.7 L471.8,608.7 L472.2,606.8 L472.6,604.8 L473.1,602.9 L473.5,600.9 L473.9,599.0 L474.3,597.0 L474.7,595.0 L475.1,593.1 L475.6,591.1 L476.0,589.2 L476.4,587.2 L476.8,585.3 L477.2,583.3 L477.6,581.4 L478.1,579.4 L478.5,577.4 L478.9,575.5 L479.3,573.5 L479.7,571.6 L480.1,569.6 L480.6,567.7 L481.0,565.7 L481.4,563.7 L481.8,561.8 L482.2,559.8 L482.6,557.9 L483.0,555.9 L483.5,554.0 L483.9,552.0 L484.3,550.0 L484.7,548.1 L485.1,546.1 L485.5,544.2 L486.0,542.2 L486.4,540.2 L486.8,538.3 L487.2,536.3 L487.6,534.4 L488.0,532.4 L488.5,530.5 L488.9,528.5 L489.3,526.6 L489.7,524.6 L490.1,522.6 L490.5,520.7 L491.0,518.7 L491.4,516.8 L491.8,514.8 L492.2,512.9 L492.6,510.9 L493.1,508.9 L493.5,507.0 L493.9,505.0 L494.3,503.1 L494.7,501.1 L495.2,499.2 L495.6,497.2 L496.0,495.3 L496.4,493.3 L496.9,491.3 L497.3,489.4 L497.7,487.4 L498.1,485.5 L498.6,483.5 L499.0,481.6 L499.4,479.6 L499.8,477.7 L500.3,475.7 L500.7,473.7 L501.1,471.8 L501.6,469.8 L502.0,467.9 L502.4,465.9 L502.9,464.0 L503.3,462.0 L503.7,460.1 L504.2,458.1 L504.6,456.2 L505.1,454.2 L505.5,452.3 L505.9,450.3 L506.4,448.4 L506.8,446.4 L507.3,444.5 L507.7,442.5 L508.2,440.6 L508.6,438.6 L509.1,436.7 L509.5,434.7 L510.0,432.8 L510.4,430.8 L510.9,428.9 L511.3,426.9 L511.8,425.0 L512.2,423.0 L512.7,421.1 L513.1,419.1 L513.6,417.2 L514.1,415.2 L514.5,413.3 L515.0,411.3 L515.4,409.4 L515.9,407.4 L516.4,405.5 L516.9,403.6 L517.3,401.6 L517.8,399.7 L518.3,397.7 L518.7,395.8 L519.2,393.8 L519.7,391.9 L520.2,389.9 L520.7,388.0 L521.1,386.1 L521.6,384.1 L522.1,382.2 L522.6,380.2 L523.1,378.3 L523.6,376.4 L524.1,374.4 L524.6,372.5 L525.0,370.5 L525.5,368.6 L526.0,366.7 L526.5,364.7 L527.0,362.8 L527.5,360.9 L528.0,358.9 L528.6,357.0 L529.1,355.0 L529.6,353.1 L530.1,351.2 L530.6,349.2 L531.1,347.3 L531.6,345.4 L532.0,343.4 L532.5,341.5 L532.9,339.5 L533.4,337.6 L533.9,335.6 L534.4,333.7 L534.9,331.8 L535.4,329.8 L535.9,327.9 L536.4,326.0 L536.9,324.0 L537.4,322.1 L537.9,320.1 L538.4,318.2 L538.9,316.3 L539.4,314.3 L540.0,312.4 L540.5,310.5 L541.0,308.5 L541.5,306.6 L542.0,304.7 L542.5,302.7 L543.0,300.8 L543.5,298.9 L544.0,296.9 L544.5,295.0 L545.0,293.1 L545.6,291.1 L546.1,289.2 L546.7,287.3 L547.2,285.4 L547.8,283.5 L548.4,281.5 L549.0,279.6 L549.7,277.7 L550.3,275.8 L550.9,273.9 L551.6,272.0 L552.2,270.2 L552.9,268.3 L553.5,266.4 L554.2,264.5 L554.9,262.6 L555.6,260.7 L556.2,258.8 L556.9,257.0 L557.6,255.1 L558.3,253.2 L559.0,251.3 L559.7,249.5 L560.4,247.6 L561.2,245.7 L561.9,243.9 L562.7,242.0 L563.4,240.2 L564.2,238.3 L565.1,236.5 L565.9,234.7 L566.7,232.9 L567.6,231.1 L568.5,229.3 L569.4,227.5 L570.3,225.7 L571.2,223.9 L572.1,222.2 L573.1,220.4 L574.1,218.7 L575.1,216.9 L576.1,215.2 L577.1,213.5 L578.2,211.8 L579.3,210.1 L580.4,208.5 L581.5,206.8 L582.6,205.1 L583.7,203.5 L584.9,201.8 L586.0,200.2 L587.2,198.6 L588.4,197.0 L589.6,195.4 L590.7,193.7 L591.9,192.1 L593.1,190.5 L594.4,189.0 L595.6,187.4 L596.9,185.8 L598.1,184.3 L599.5,182.8 L600.8,181.3 L602.2,179.9 L603.7,178.5 L605.1,177.2 L606.6,175.9 L608.2,174.6 L609.7,173.3 L611.3,172.1 L612.9,170.9 L614.6,169.8 L616.3,168.7 L618.0,167.7 L619.7,166.7 L621.4,165.7 L623.2,164.8 L625.0,163.9 L626.8,163.1 L628.7,162.3 L630.5,161.5 L632.4,160.8 L634.2,160.1 L636.1,159.4 L638.0,158.8 L639.9,158.2 L641.9,157.7 L643.8,157.2 L645.7,156.7 L647.7,156.2 L649.6,155.8 L651.6,155.3 L653.5,154.8 L655.5,154.3 L657.4,153.8 L659.3,153.4 L661.3,152.9 L663.2,152.4 L665.2,152.0 L667.1,151.6 L669.1,151.2 L671.1,150.9 L673.1,150.6 L675.0,150.3 L677.0,150.0 L679.0,149.7 L681.0,149.4 L682.9,149.0 L684.9,148.7 L686.9,148.4 L688.9,148.1 L690.8,147.8 L692.8,147.7 L694.8,147.6 L696.8,147.5 L698.8,147.5 L700.8,147.5 L702.8,147.5 L704.8,147.6 L706.8,147.6 L708.8,147.6 L710.8,147.6 L712.8,147.6 L714.8,147.7 L716.8,147.7 L718.8,147.7 L720.8,147.8 L722.8,147.8 L724.8,147.8 L726.8,147.9 L728.8,147.9 L730.8,148.0 L732.8,148.0 L734.8,148.0 L736.8,148.1 L738.8,148.2 L740.8,148.2 L742.8,148.3 L744.8,148.4 L746.8,148.5 L748.8,148.6 L750.8,148.7 L752.8,148.8 L754.8,148.9 L756.8,149.1 L758.8,149.2 L760.8,149.3 L762.8,149.4 L764.8,149.6 L766.8,149.7 L768.8,149.8 L770.8,149.9 L772.8,150.0 L774.8,150.1 L776.8,150.3 L778.8,150.4 L780.8,150.4 L782.8,150.5 L784.8,150.6 L786.8,150.7 L788.8,150.8 L790.8,150.8 L792.8,150.9 L794.8,151.0 L796.8,151.0 L798.8,151.1 L800.8,151.2 L802.8,151.2 L804.8,151.3 L806.8,151.4 L808.8,151.4 L810.8,151.5 L812.8,151.5 L814.8,151.6 L816.8,151.7 L818.8,151.7 L820.8,151.7 L822.8,151.8 L824.8,151.8 L826.8,151.9 L828.8,151.9 L830.8,151.9 L832.8,152.0 L834.8,152.0 L836.8,152.0 L838.8,152.0 L840.8,152.0 L842.8,152.0 L844.8,152.0 L846.8,152.0 L848.8,152.0 L850.8,152.0 L852.8,152.0 L854.8,152.0 L856.8,152.0 L858.8,152.0 L860.8,152.0 L862.8,152.0 L864.8,152.0 L866.8,152.0 L868.8,152.0 L870.8,152.0 L872.8,152.0 L874.8,152.0 L876.8,152.0 L878.8,152.0 L880.8,152.0 L882.8,152.0 L884.8,152.0 L886.8,152.0 L888.8,152.0 L890.8,152.0 L892.8,152.0 L894.8,151.9 L896.8,151.9 L898.8,151.8 L900.8,151.6 L902.8,151.5 L904.8,151.3 L906.8,151.1 L908.8,150.8 L910.7,150.6 L912.7,150.4 L914.7,150.1 L916.7,149.8 L918.7,149.6 L920.7,149.3 L922.6,149.1 L924.6,148.8 L926.6,148.5 L928.6,148.2 L930.5,147.8 L932.5,147.5 L934.5,147.1 L936.5,146.8 L938.4,146.4 L940.4,146.1 L942.4,145.7 L944.3,145.3 L946.3,145.0 L948.3,144.6 L950.2,144.3 L952.2,143.9 L954.2,143.6 L956.2,143.3 L958.1,143.0 L960.1,142.7 L962.1,142.5 L964.1,142.2 L966.1,141.9 L968.1,141.7 L970.0,141.4 L972.0,141.2 L974.0,140.9 L976.0,140.7 L978.0,140.4 L980.0,140.2 L982.0,140.0 L983.9,139.8 L985.9,139.6 L987.9,139.4 L989.9,139.2 L991.9,139.0 L993.9,138.9 L995.9,138.8 L997.9,138.6 L999.9,138.5 L1001.9,138.4 L1003.9,138.3 L1005.9,138.3 L1007.9,138.2 L1009.9,138.1 L1011.9,138.1 L1013.9,138.0 L1015.9,138.0 L1017.9,137.9 L1019.9,137.9 L1021.9,137.8 L1023.9,137.8 L1025.9,137.7 L1027.9,137.7 L1029.9,137.6 L1031.9,137.5 L1033.9,137.5 L1035.9,137.4 L1037.9,137.4 L1039.9,137.3 L1041.9,137.2 L1043.9,137.1 L1045.9,137.1 L1047.9,137.0 L1049.9,136.9 L1051.9,136.9 L1053.9,136.8 L1055.9,136.7 L1057.9,136.6 L1059.9,136.6 L1061.9,136.5 L1063.9,136.4 L1065.9,136.4 L1067.9,136.3 L1069.9,136.2 L1071.9,136.2 L1073.9,136.1 L1075.9,136.0 L1077.9,136.0 L1079.9,135.9 L1081.9,135.9 L1083.9,135.9 L1085.9,135.8 L1087.9,135.8 L1089.9,135.7 L1091.9,135.7 L1093.9,135.7 L1095.9,135.7 L1097.9,135.6 L1099.9,135.6 L1101.9,135.6 L1103.9,135.5 L1105.9,135.5 L1107.9,135.5 L1109.9,135.5 L1111.9,135.4 L1113.9,135.4 L1115.9,135.4 L1117.9,135.4 L1119.9,135.3 L1121.9,135.3 L1123.9,135.3 L1125.9,135.3 L1127.9,135.3 L1129.9,135.3 L1131.9,135.2 L1133.9,135.2 L1135.9,135.2 L1137.9,135.2 L1139.9,135.2 L1141.9,135.2 L1143.9,135.2 L1145.9,135.2 L1147.9,135.2 L1149.9,135.2 L1151.9,135.2 L1153.9,135.1 L1155.9,135.1 L1157.9,135.1 L1159.9,135.1 L1161.9,135.1 L1163.9,135.1 L1165.9,135.1 L1167.9,135.1 L1169.9,135.1 L1171.9,135.1 L1173.9,135.1 L1175.9,135.1 L1177.9,135.1 L1179.9,135.1 L1181.9,135.1 L1183.9,135.0 L1185.9,135.0 L1187.9,135.0 L1189.9,135.0 L1191.9,135.0 L1193.9,135.0 L1195.9,135.0 L1197.9,135.0 L1199.9,135.0 L1201.9,135.0 L1203.9,135.0 L1205.9,135.0 L1207.9,135.0 L1209.9,135.0 L1211.9,135.0 L1213.9,135.0 L1215.9,135.0 L1217.9,135.0 L1219.9,135.0 L1221.9,135.0 L1223.9,135.0 L1225.9,135.0 L1227.9,135.0 L1229.9,135.0 L1231.9,135.0 L1233.9,135.0 L1235.9,135.0 L1237.9,135.0 L1240.0,135.0 L1242.0,135.0 L1244.0,135.0 L1246.0,135.0 L1248.0,135.0 L1250.0,135.0 L1252.0,135.0 L1254.0,135.0 L1256.0,135.0 L1258.0,135.0 L1260.0,135.0 L1262.0,135.0 L1264.0,135.0 L1266.0,135.0 L1268.0,135.0 L1270.0,135.0 L1272.0,135.0 L1274.0,135.0 L1276.0,135.0 L1278.0,135.0 L1280.0,135.0 L1282.0,135.0 L1284.0,135.0 L1286.0,135.0 L1288.0,135.0 L1290.0,135.0 L1292.0,135.0 L1294.0,135.0 L1296.0,135.0 L1298.0,135.0 L1300.0,135.0 L1302.0,135.0 L1304.0,135.0 L1306.0,135.0 L1308.0,135.0 L1310.0,135.0 L1312.0,135.0 L1314.0,135.0 L1316.0,135.0 L1318.0,135.1 L1320.0,135.1 L1322.0,135.1 L1324.0,135.1 L1326.0,135.1 L1328.0,135.1 L1330.0,135.2 L1332.0,135.2 L1334.0,135.2 L1336.0,135.2 L1338.0,135.2 L1340.0,135.3 L1342.0,135.3 L1344.0,135.3 L1346.0,135.3 L1348.0,135.3 L1350.0,135.4 L1352.0,135.4 L1354.0,135.4 L1356.0,135.4 L1358.0,135.5 L1360.0,135.5 L1362.0,135.5 L1364.0,135.5 L1366.0,135.6 L1368.0,135.6" fill="none" stroke="#1e1e1e" stroke-width="10.6" stroke-linecap="butt" stroke-linejoin="round" clip-path="url(#cin)"/>
<path d="M155.9,305.6 L156.7,307.4 L157.5,309.3 L158.3,311.1 L159.0,313.0 L159.8,314.8 L160.6,316.7 L161.4,318.5 L162.2,320.3 L162.9,322.2 L163.7,324.0 L164.5,325.9 L165.3,327.7 L166.1,329.6 L166.8,331.4 L167.6,333.2 L168.4,335.1 L169.2,336.9 L170.0,338.7 L170.8,340.6 L171.6,342.4 L172.5,344.2 L173.3,346.1 L174.1,347.9 L174.9,349.7 L175.7,351.5 L176.6,353.3 L177.4,355.2 L178.2,357.0 L179.0,358.8 L179.9,360.6 L180.7,362.5 L181.5,364.3 L182.4,366.1 L183.2,367.9 L184.0,369.7 L184.9,371.6 L185.7,373.4 L186.5,375.2 L187.3,377.0 L188.2,378.8 L189.0,380.7 L189.8,382.5 L190.6,384.3 L191.4,386.1 L192.2,388.0 L193.0,389.8 L193.8,391.6 L194.6,393.5 L195.4,395.3 L196.2,397.2 L197.0,399.0 L197.8,400.8 L198.5,402.7 L199.3,404.5 L200.1,406.4 L200.8,408.3 L201.5,410.1 L202.3,412.0 L203.0,413.8 L203.8,415.7 L204.5,417.6 L205.2,419.4 L205.9,421.3 L206.6,423.2 L207.3,425.0 L208.0,426.9 L208.7,428.8 L209.4,430.7 L210.1,432.6 L210.8,434.4 L211.4,436.3 L212.1,438.2 L212.8,440.1 L213.4,442.0 L214.1,443.9 L214.8,445.8 L215.4,447.6 L216.1,449.5 L216.7,451.4 L217.4,453.3 L218.0,455.2 L218.6,457.1 L219.3,459.0 L219.9,460.9 L220.5,462.8 L221.2,464.7 L221.8,466.6 L222.4,468.5 L223.0,470.4 L223.7,472.3 L224.3,474.2 L224.9,476.1 L225.5,478.0 L226.1,479.9 L226.8,481.8 L227.4,483.7 L228.0,485.6 L228.6,487.5 L229.2,489.4 L229.8,491.3 L230.4,493.3 L231.0,495.2 L231.7,497.1 L232.3,499.0 L232.9,500.9 L233.5,502.8 L234.1,504.7 L234.7,506.6 L235.3,508.5 L236.0,510.4 L236.6,512.3 L237.2,514.2 L237.8,516.1 L238.4,518.0 L239.1,519.9 L239.7,521.8 L240.3,523.7 L241.0,525.6 L241.6,527.5 L242.2,529.4 L242.9,531.3 L243.5,533.2 L244.1,535.1 L244.8,537.0 L245.4,538.9 L246.1,540.8 L246.7,542.7 L247.4,544.6 L248.0,546.4 L248.6,548.3 L249.3,550.2 L249.9,552.1 L250.5,554.0 L251.2,555.9 L251.8,557.8 L252.4,559.7 L253.0,561.7 L253.6,563.6 L254.2,565.5 L254.8,567.4 L255.4,569.3 L255.9,571.2 L256.5,573.1 L257.0,575.1 L257.6,577.0 L258.1,578.9 L258.6,580.9 L259.1,582.8 L259.6,584.7 L260.1,586.7 L260.6,588.6 L261.1,590.5 L261.6,592.5 L262.1,594.4 L262.6,596.4 L263.1,598.3 L263.5,600.2 L264.0,602.2 L264.5,604.1 L265.0,606.1 L265.5,608.0 L266.0,609.9 L266.5,611.9 L267.0,613.8 L267.5,615.7 L268.1,617.7 L268.6,619.6 L269.1,621.5 L269.6,623.5 L270.1,625.4 L270.7,627.3 L271.2,629.3 L271.7,631.2 L272.3,633.1 L272.8,635.0 L273.3,637.0 L273.9,638.9 L274.4,640.8 L275.0,642.8 L275.5,644.7 L276.1,646.6 L276.6,648.5 L277.2,650.5 L277.7,652.4 L278.3,654.3 L278.8,656.2 L279.4,658.1 L279.9,660.1 L280.5,662.0 L281.0,663.9 L281.6,665.8 L282.1,667.8 L282.7,669.7 L283.2,671.6 L283.8,673.5 L284.3,675.4 L284.9,677.4 L285.5,679.3 L286.0,681.2 L286.6,683.1 L287.1,685.1 L287.6,687.0 L288.2,688.9 L288.7,690.8 L289.3,692.8 L289.8,694.7 L290.4,696.6 L290.9,698.5 L291.4,700.5 L292.0,702.4 L292.5,704.3 L293.0,706.3 L293.5,708.2 L294.1,710.1 L294.6,712.1 L295.1,714.0 L295.6,715.9 L296.1,717.9 L296.6,719.8 L297.1,721.7 L297.6,723.7 L298.1,725.6 L298.6,727.6 L299.1,729.5 L299.6,731.4 L300.1,733.4 L300.6,735.3 L301.1,737.2 L301.6,739.2 L302.1,741.1 L302.6,743.1 L303.1,745.0 L303.6,746.9 L304.1,748.9 L304.6,750.8 L305.1,752.7 L305.6,754.7 L306.1,756.6 L306.7,758.5 L307.2,760.5 L307.7,762.4 L308.3,764.3 L308.9,766.2 L309.4,768.2 L310.0,770.1 L310.6,772.0 L311.2,773.9 L311.7,775.8 L312.3,777.7 L313.0,779.6 L313.6,781.5 L314.2,783.4 L314.8,785.3 L315.5,787.2 L316.1,789.1 L316.8,791.0 L317.5,792.9 L318.1,794.8 L318.8,796.6 L319.5,798.5 L320.2,800.4 L320.9,802.3 L321.6,804.1 L322.4,806.0 L323.1,807.9 L323.8,809.7 L324.6,811.6 L325.4,813.4 L326.1,815.3 L326.9,817.1 L327.7,818.9 L328.5,820.8 L329.3,822.6 L330.1,824.4 L331.0,826.3 L331.8,828.1 L332.6,829.9 L333.5,831.7 L334.4,833.5 L335.2,835.3 L336.1,837.1 L337.0,838.9 L337.9,840.7 L338.8,842.5 L339.7,844.2 L340.7,846.0 L341.6,847.8 L342.6,849.5 L343.5,851.3 L344.5,853.0 L345.5,854.8 L346.5,856.5 L347.5,858.2 L348.5,859.9 L349.6,861.6 L350.6,863.4 L351.7,865.1 L352.7,866.8 L353.8,868.5 L354.8,870.2 L355.9,871.9 L357.0,873.5 L358.1,875.2 L359.3,876.8 L360.5,878.3 L361.8,879.8 L363.2,881.2 L364.7,882.4 L366.3,883.5 L368.0,884.3 L369.8,885.0 L371.7,885.4 L373.6,885.6 L375.5,885.5 L377.4,885.2 L379.2,884.6 L380.9,883.8 L382.5,882.7 L383.9,881.5 L385.2,880.1 L386.4,878.5 L387.6,876.9 L388.7,875.2 L389.7,873.5 L390.7,871.8 L391.6,870.0 L392.5,868.2 L393.4,866.4 L394.2,864.6 L395.1,862.8 L396.0,861.0 L396.8,859.2 L397.7,857.4 L398.6,855.6 L399.4,853.8 L400.2,852.0 L401.1,850.2 L401.9,848.3 L402.7,846.5 L403.5,844.7 L404.3,842.9 L405.1,841.0 L405.9,839.2 L406.7,837.4 L407.5,835.5 L408.3,833.7 L409.1,831.8 L409.9,830.0 L410.6,828.1 L411.4,826.3 L412.1,824.4 L412.9,822.6 L413.6,820.7 L414.4,818.9 L415.1,817.0 L415.8,815.1 L416.5,813.3 L417.3,811.4 L418.0,809.5 L418.7,807.7 L419.4,805.8 L420.1,803.9 L420.8,802.0 L421.4,800.2 L422.1,798.3 L422.8,796.4 L423.5,794.5 L424.1,792.6 L424.8,790.7 L425.4,788.8 L426.1,786.9 L426.7,785.1 L427.4,783.2 L428.0,781.3 L428.6,779.4 L429.3,777.5 L429.9,775.6 L430.5,773.7 L431.1,771.7 L431.7,769.8 L432.3,767.9 L432.9,766.0 L433.5,764.1 L434.1,762.2 L434.7,760.3 L435.3,758.4 L435.9,756.5 L436.4,754.5 L437.0,752.6 L437.6,750.7 L438.1,748.8 L438.7,746.9 L439.2,744.9 L439.8,743.0 L440.3,741.1 L440.9,739.2 L441.4,737.2 L442.0,735.3 L442.5,733.4 L443.0,731.5 L443.5,729.5 L444.1,727.6 L444.6,725.7 L445.1,723.7 L445.6,721.8 L446.1,719.9 L446.6,717.9 L447.1,716.0 L447.6,714.0 L448.1,712.1 L448.6,710.2 L449.1,708.2 L449.6,706.3 L450.1,704.3 L450.5,702.4 L451.0,700.5 L451.5,698.5 L452.0,696.6 L452.5,694.6 L452.9,692.7 L453.4,690.7 L453.9,688.8 L454.3,686.8 L454.8,684.9 L455.2,683.0 L455.7,681.0 L456.2,679.1 L456.6,677.1 L457.1,675.2 L457.5,673.2 L458.0,671.3 L458.4,669.3 L458.9,667.4 L459.3,665.4 L459.7,663.5 L460.2,661.5 L460.6,659.6 L461.1,657.6 L461.5,655.6 L461.9,653.7 L462.4,651.7 L462.8,649.8 L463.2,647.8 L463.7,645.9 L464.1,643.9 L464.5,642.0 L465.0,640.0 L465.4,638.1 L465.8,636.1 L466.3,634.2 L466.7,632.2 L467.1,630.3 L467.6,628.3 L468.0,626.3 L468.4,624.4 L468.8,622.4 L469.3,620.5 L469.7,618.5 L470.1,616.6 L470.5,614.6 L470.9,612.7 L471.4,610.7 L471.8,608.7 L472.2,606.8 L472.6,604.8 L473.1,602.9 L473.5,600.9 L473.9,599.0 L474.3,597.0 L474.7,595.0 L475.1,593.1 L475.6,591.1 L476.0,589.2 L476.4,587.2 L476.8,585.3 L477.2,583.3 L477.6,581.4 L478.1,579.4 L478.5,577.4 L478.9,575.5 L479.3,573.5 L479.7,571.6 L480.1,569.6 L480.6,567.7 L481.0,565.7 L481.4,563.7 L481.8,561.8 L482.2,559.8 L482.6,557.9 L483.0,555.9 L483.5,554.0 L483.9,552.0 L484.3,550.0 L484.7,548.1 L485.1,546.1 L485.5,544.2 L486.0,542.2 L486.4,540.2 L486.8,538.3 L487.2,536.3 L487.6,534.4 L488.0,532.4 L488.5,530.5 L488.9,528.5 L489.3,526.6 L489.7,524.6 L490.1,522.6 L490.5,520.7 L491.0,518.7 L491.4,516.8 L491.8,514.8 L492.2,512.9 L492.6,510.9 L493.1,508.9 L493.5,507.0 L493.9,505.0 L494.3,503.1 L494.7,501.1 L495.2,499.2 L495.6,497.2 L496.0,495.3 L496.4,493.3 L496.9,491.3 L497.3,489.4 L497.7,487.4 L498.1,485.5 L498.6,483.5 L499.0,481.6 L499.4,479.6 L499.8,477.7 L500.3,475.7 L500.7,473.7 L501.1,471.8 L501.6,469.8 L502.0,467.9 L502.4,465.9 L502.9,464.0 L503.3,462.0 L503.7,460.1 L504.2,458.1 L504.6,456.2 L505.1,454.2 L505.5,452.3 L505.9,450.3 L506.4,448.4 L506.8,446.4 L507.3,444.5 L507.7,442.5 L508.2,440.6 L508.6,438.6 L509.1,436.7 L509.5,434.7 L510.0,432.8 L510.4,430.8 L510.9,428.9 L511.3,426.9 L511.8,425.0 L512.2,423.0 L512.7,421.1 L513.1,419.1 L513.6,417.2 L514.1,415.2 L514.5,413.3 L515.0,411.3 L515.4,409.4 L515.9,407.4 L516.4,405.5 L516.9,403.6 L517.3,401.6 L517.8,399.7 L518.3,397.7 L518.7,395.8 L519.2,393.8 L519.7,391.9 L520.2,389.9 L520.7,388.0 L521.1,386.1 L521.6,384.1 L522.1,382.2 L522.6,380.2 L523.1,378.3 L523.6,376.4 L524.1,374.4 L524.6,372.5 L525.0,370.5 L525.5,368.6 L526.0,366.7 L526.5,364.7 L527.0,362.8 L527.5,360.9 L528.0,358.9 L528.6,357.0 L529.1,355.0 L529.6,353.1 L530.1,351.2 L530.6,349.2 L531.1,347.3 L531.6,345.4 L532.0,343.4 L532.5,341.5 L532.9,339.5 L533.4,337.6 L533.9,335.6 L534.4,333.7 L534.9,331.8 L535.4,329.8 L535.9,327.9 L536.4,326.0 L536.9,324.0 L537.4,322.1 L537.9,320.1 L538.4,318.2 L538.9,316.3 L539.4,314.3 L540.0,312.4 L540.5,310.5 L541.0,308.5 L541.5,306.6 L542.0,304.7 L542.5,302.7 L543.0,300.8 L543.5,298.9 L544.0,296.9 L544.5,295.0 L545.0,293.1 L545.6,291.1 L546.1,289.2 L546.7,287.3 L547.2,285.4 L547.8,283.5 L548.4,281.5 L549.0,279.6 L549.7,277.7 L550.3,275.8 L550.9,273.9 L551.6,272.0 L552.2,270.2 L552.9,268.3 L553.5,266.4 L554.2,264.5 L554.9,262.6 L555.6,260.7 L556.2,258.8 L556.9,257.0 L557.6,255.1 L558.3,253.2 L559.0,251.3 L559.7,249.5 L560.4,247.6 L561.2,245.7 L561.9,243.9 L562.7,242.0 L563.4,240.2 L564.2,238.3 L565.1,236.5 L565.9,234.7 L566.7,232.9 L567.6,231.1 L568.5,229.3 L569.4,227.5 L570.3,225.7 L571.2,223.9 L572.1,222.2 L573.1,220.4 L574.1,218.7 L575.1,216.9 L576.1,215.2 L577.1,213.5 L578.2,211.8 L579.3,210.1 L580.4,208.5 L581.5,206.8 L582.6,205.1 L583.7,203.5 L584.9,201.8 L586.0,200.2 L587.2,198.6 L588.4,197.0 L589.6,195.4 L590.7,193.7 L591.9,192.1 L593.1,190.5 L594.4,189.0 L595.6,187.4 L596.9,185.8 L598.1,184.3 L599.5,182.8 L600.8,181.3 L602.2,179.9 L603.7,178.5 L605.1,177.2 L606.6,175.9 L608.2,174.6 L609.7,173.3 L611.3,172.1 L612.9,170.9 L614.6,169.8 L616.3,168.7 L618.0,167.7 L619.7,166.7 L621.4,165.7 L623.2,164.8 L625.0,163.9 L626.8,163.1 L628.7,162.3 L630.5,161.5 L632.4,160.8 L634.2,160.1 L636.1,159.4 L638.0,158.8 L639.9,158.2 L641.9,157.7 L643.8,157.2 L645.7,156.7 L647.7,156.2 L649.6,155.8 L651.6,155.3 L653.5,154.8 L655.5,154.3 L657.4,153.8 L659.3,153.4 L661.3,152.9 L663.2,152.4 L665.2,152.0 L667.1,151.6 L669.1,151.2 L671.1,150.9 L673.1,150.6 L675.0,150.3 L677.0,150.0 L679.0,149.7 L681.0,149.4 L682.9,149.0 L684.9,148.7 L686.9,148.4 L688.9,148.1 L690.8,147.8 L692.8,147.7 L694.8,147.6 L696.8,147.5 L698.8,147.5 L700.8,147.5 L702.8,147.5 L704.8,147.6 L706.8,147.6 L708.8,147.6 L710.8,147.6 L712.8,147.6 L714.8,147.7 L716.8,147.7 L718.8,147.7 L720.8,147.8 L722.8,147.8 L724.8,147.8 L726.8,147.9 L728.8,147.9 L730.8,148.0 L732.8,148.0 L734.8,148.0 L736.8,148.1 L738.8,148.2 L740.8,148.2 L742.8,148.3 L744.8,148.4 L746.8,148.5 L748.8,148.6 L750.8,148.7 L752.8,148.8 L754.8,148.9 L756.8,149.1 L758.8,149.2 L760.8,149.3 L762.8,149.4 L764.8,149.6 L766.8,149.7 L768.8,149.8 L770.8,149.9 L772.8,150.0 L774.8,150.1 L776.8,150.3 L778.8,150.4 L780.8,150.4 L782.8,150.5 L784.8,150.6 L786.8,150.7 L788.8,150.8 L790.8,150.8 L792.8,150.9 L794.8,151.0 L796.8,151.0 L798.8,151.1 L800.8,151.2 L802.8,151.2 L804.8,151.3 L806.8,151.4 L808.8,151.4 L810.8,151.5 L812.8,151.5 L814.8,151.6 L816.8,151.7 L818.8,151.7 L820.8,151.7 L822.8,151.8 L824.8,151.8 L826.8,151.9 L828.8,151.9 L830.8,151.9 L832.8,152.0 L834.8,152.0 L836.8,152.0 L838.8,152.0 L840.8,152.0 L842.8,152.0 L844.8,152.0 L846.8,152.0 L848.8,152.0 L850.8,152.0 L852.8,152.0 L854.8,152.0 L856.8,152.0 L858.8,152.0 L860.8,152.0 L862.8,152.0 L864.8,152.0 L866.8,152.0 L868.8,152.0 L870.8,152.0 L872.8,152.0 L874.8,152.0 L876.8,152.0 L878.8,152.0 L880.8,152.0 L882.8,152.0 L884.8,152.0 L886.8,152.0 L888.8,152.0 L890.8,152.0 L892.8,152.0 L894.8,151.9 L896.8,151.9 L898.8,151.8 L900.8,151.6 L902.8,151.5 L904.8,151.3 L906.8,151.1 L908.8,150.8 L910.7,150.6 L912.7,150.4 L914.7,150.1 L916.7,149.8 L918.7,149.6 L920.7,149.3 L922.6,149.1 L924.6,148.8 L926.6,148.5 L928.6,148.2 L930.5,147.8 L932.5,147.5 L934.5,147.1 L936.5,146.8 L938.4,146.4 L940.4,146.1 L942.4,145.7 L944.3,145.3 L946.3,145.0 L948.3,144.6 L950.2,144.3 L952.2,143.9 L954.2,143.6 L956.2,143.3 L958.1,143.0 L960.1,142.7 L962.1,142.5 L964.1,142.2 L966.1,141.9 L968.1,141.7 L970.0,141.4 L972.0,141.2 L974.0,140.9 L976.0,140.7 L978.0,140.4 L980.0,140.2 L982.0,140.0 L983.9,139.8 L985.9,139.6 L987.9,139.4 L989.9,139.2 L991.9,139.0 L993.9,138.9 L995.9,138.8 L997.9,138.6 L999.9,138.5 L1001.9,138.4 L1003.9,138.3 L1005.9,138.3 L1007.9,138.2 L1009.9,138.1 L1011.9,138.1 L1013.9,138.0 L1015.9,138.0 L1017.9,137.9 L1019.9,137.9 L1021.9,137.8 L1023.9,137.8 L1025.9,137.7 L1027.9,137.7 L1029.9,137.6 L1031.9,137.5 L1033.9,137.5 L1035.9,137.4 L1037.9,137.4 L1039.9,137.3 L1041.9,137.2 L1043.9,137.1 L1045.9,137.1 L1047.9,137.0 L1049.9,136.9 L1051.9,136.9 L1053.9,136.8 L1055.9,136.7 L1057.9,136.6 L1059.9,136.6 L1061.9,136.5 L1063.9,136.4 L1065.9,136.4 L1067.9,136.3 L1069.9,136.2 L1071.9,136.2 L1073.9,136.1 L1075.9,136.0 L1077.9,136.0 L1079.9,135.9 L1081.9,135.9 L1083.9,135.9 L1085.9,135.8 L1087.9,135.8 L1089.9,135.7 L1091.9,135.7 L1093.9,135.7 L1095.9,135.7 L1097.9,135.6 L1099.9,135.6 L1101.9,135.6 L1103.9,135.5 L1105.9,135.5 L1107.9,135.5 L1109.9,135.5 L1111.9,135.4 L1113.9,135.4 L1115.9,135.4 L1117.9,135.4 L1119.9,135.3 L1121.9,135.3 L1123.9,135.3 L1125.9,135.3 L1127.9,135.3 L1129.9,135.3 L1131.9,135.2 L1133.9,135.2 L1135.9,135.2 L1137.9,135.2 L1139.9,135.2 L1141.9,135.2 L1143.9,135.2 L1145.9,135.2 L1147.9,135.2 L1149.9,135.2 L1151.9,135.2 L1153.9,135.1 L1155.9,135.1 L1157.9,135.1 L1159.9,135.1 L1161.9,135.1 L1163.9,135.1 L1165.9,135.1 L1167.9,135.1 L1169.9,135.1 L1171.9,135.1 L1173.9,135.1 L1175.9,135.1 L1177.9,135.1 L1179.9,135.1 L1181.9,135.1 L1183.9,135.0 L1185.9,135.0 L1187.9,135.0 L1189.9,135.0 L1191.9,135.0 L1193.9,135.0 L1195.9,135.0 L1197.9,135.0 L1199.9,135.0 L1201.9,135.0 L1203.9,135.0 L1205.9,135.0 L1207.9,135.0 L1209.9,135.0 L1211.9,135.0 L1213.9,135.0 L1215.9,135.0 L1217.9,135.0 L1219.9,135.0 L1221.9,135.0 L1223.9,135.0 L1225.9,135.0 L1227.9,135.0 L1229.9,135.0 L1231.9,135.0 L1233.9,135.0 L1235.9,135.0 L1237.9,135.0 L1240.0,135.0 L1242.0,135.0 L1244.0,135.0 L1246.0,135.0 L1248.0,135.0 L1250.0,135.0 L1252.0,135.0 L1254.0,135.0 L1256.0,135.0 L1258.0,135.0 L1260.0,135.0 L1262.0,135.0 L1264.0,135.0 L1266.0,135.0 L1268.0,135.0 L1270.0,135.0 L1272.0,135.0 L1274.0,135.0 L1276.0,135.0 L1278.0,135.0 L1280.0,135.0 L1282.0,135.0 L1284.0,135.0 L1286.0,135.0 L1288.0,135.0 L1290.0,135.0 L1292.0,135.0 L1294.0,135.0 L1296.0,135.0 L1298.0,135.0 L1300.0,135.0 L1302.0,135.0 L1304.0,135.0 L1306.0,135.0 L1308.0,135.0 L1310.0,135.0 L1312.0,135.0 L1314.0,135.0 L1316.0,135.0 L1318.0,135.1 L1320.0,135.1 L1322.0,135.1 L1324.0,135.1 L1326.0,135.1 L1328.0,135.1 L1330.0,135.2 L1332.0,135.2 L1334.0,135.2 L1336.0,135.2 L1338.0,135.2 L1340.0,135.3 L1342.0,135.3 L1344.0,135.3 L1346.0,135.3 L1348.0,135.3 L1350.0,135.4 L1352.0,135.4 L1354.0,135.4 L1356.0,135.4 L1358.0,135.5 L1360.0,135.5 L1362.0,135.5 L1364.0,135.5 L1366.0,135.6 L1368.0,135.6" fill="none" stroke="#000" stroke-width="10.6" stroke-linecap="butt" stroke-linejoin="round" clip-path="url(#cout)"/>
<path d="M166.5,107.1 L166.7,109.1 L166.9,111.1 L167.0,113.1 L167.2,115.1 L167.4,117.1 L167.6,119.1 L167.7,121.0 L167.9,123.0 L168.1,125.0 L168.2,127.0 L168.4,129.0 L168.5,131.0 L168.6,133.0 L168.8,135.0 L168.9,137.0 L169.0,139.0 L169.1,141.0 L169.3,143.0 L169.4,145.0 L169.5,147.0 L169.7,149.0 L169.8,151.0 L169.9,153.0 L170.1,155.0 L170.2,157.0 L170.3,159.0 L170.5,161.0 L170.6,163.0 L170.8,165.0 L171.0,167.0 L171.1,169.0 L171.3,171.0 L171.5,172.9 L171.7,174.9 L171.9,176.9 L172.1,178.9 L172.3,180.9 L172.5,182.9 L172.8,184.9 L173.0,186.9 L173.3,188.9 L173.5,190.8 L173.8,192.8 L174.1,194.8 L174.4,196.8 L174.7,198.8 L175.0,200.7 L175.3,202.7 L175.6,204.7 L175.9,206.7 L176.3,208.6 L176.6,210.6 L177.0,212.6 L177.3,214.6 L177.7,216.5 L178.0,218.5 L178.4,220.5 L178.8,222.4 L179.2,224.4 L179.6,226.3 L180.0,228.3 L180.4,230.3 L180.8,232.2 L181.2,234.2 L181.6,236.1 L182.1,238.1 L182.5,240.1 L182.9,242.0 L183.4,244.0 L183.8,245.9 L184.3,247.9 L184.7,249.8 L185.2,251.8 L185.6,253.7 L186.1,255.7 L186.6,257.6 L187.0,259.5 L187.5,261.5 L188.0,263.4 L188.5,265.4 L188.9,267.3 L189.4,269.3 L189.9,271.2 L190.4,273.1 L190.9,275.1 L191.4,277.0 L191.9,279.0 L192.4,280.9 L192.9,282.8 L193.4,284.8 L193.9,286.7 L194.4,288.7 L194.9,290.6 L195.4,292.5 L195.9,294.5 L196.4,296.4 L196.9,298.3 L197.4,300.3 L198.0,302.2 L198.5,304.1 L199.0,306.1 L199.5,308.0 L200.1,309.9 L200.6,311.9 L201.1,313.8 L201.6,315.7 L202.2,317.6 L202.7,319.6 L203.2,321.5 L203.8,323.4 L204.3,325.4 L204.8,327.3 L205.4,329.2 L205.9,331.1 L206.5,333.1 L207.0,335.0 L207.5,336.9 L208.1,338.8 L208.6,340.8 L209.2,342.7 L209.7,344.6 L210.3,346.5 L210.8,348.5 L211.4,350.4 L211.9,352.3 L212.5,354.2 L213.0,356.2 L213.6,358.1 L214.1,360.0 L214.7,361.9 L215.2,363.9 L215.8,365.8 L216.3,367.7 L216.9,369.6 L217.4,371.6 L218.0,373.5 L218.5,375.4 L219.1,377.3 L219.7,379.2 L220.2,381.2 L220.8,383.1 L221.3,385.0 L221.9,386.9 L222.4,388.9 L223.0,390.8 L223.6,392.7 L224.1,394.6 L224.7,396.6 L225.2,398.5 L225.8,400.4 L226.3,402.3 L226.9,404.2 L227.4,406.2 L228.0,408.1 L228.6,410.0 L229.1,411.9 L229.7,413.9 L230.2,415.8 L230.8,417.7 L231.3,419.6 L231.9,421.6 L232.4,423.5 L233.0,425.4 L233.5,427.3 L234.1,429.3 L234.6,431.2 L235.2,433.1 L235.7,435.0 L236.2,437.0 L236.8,438.9 L237.3,440.8 L237.9,442.7 L238.4,444.7 L239.0,446.6 L239.5,448.5 L240.0,450.4 L240.6,452.4 L241.1,454.3 L241.6,456.2 L242.2,458.2 L242.7,460.1 L243.2,462.0 L243.8,463.9 L244.3,465.9 L244.8,467.8 L245.3,469.7 L245.9,471.7 L246.4,473.6 L246.9,475.5 L247.4,477.5 L247.9,479.4 L248.5,481.3 L249.0,483.3 L249.5,485.2 L250.0,487.1 L250.5,489.1 L251.0,491.0 L251.5,493.0 L252.0,494.9 L252.5,496.8 L253.0,498.8 L253.5,500.7 L254.0,502.6 L254.5,504.6 L255.0,506.5 L255.4,508.5 L255.9,510.4 L256.4,512.4 L256.9,514.3 L257.4,516.2 L257.8,518.2 L258.3,520.1 L258.8,522.1 L259.2,524.0 L259.7,526.0 L260.2,527.9 L260.6,529.9 L261.1,531.8 L261.6,533.8 L262.0,535.7 L262.5,537.7 L262.9,539.6 L263.4,541.6 L263.8,543.5 L264.3,545.5 L264.7,547.4 L265.2,549.4 L265.6,551.3 L266.1,553.3 L266.5,555.2 L267.0,557.2 L267.4,559.1 L267.9,561.1 L268.3,563.0 L268.7,565.0 L269.2,566.9 L269.6,568.9 L270.1,570.8 L270.5,572.8 L270.9,574.7 L271.4,576.7 L271.8,578.6 L272.2,580.6 L272.7,582.5 L273.1,584.5 L273.5,586.5 L274.0,588.4 L274.4,590.4 L274.8,592.3 L275.2,594.3 L275.7,596.2 L276.1,598.2 L276.5,600.1 L277.0,602.1 L277.4,604.0 L277.8,606.0 L278.3,608.0 L278.7,609.9 L279.1,611.9 L279.5,613.8 L280.0,615.8 L280.4,617.7 L280.8,619.7 L281.3,621.6 L281.7,623.6 L282.1,625.5 L282.6,627.5 L283.0,629.5 L283.4,631.4 L283.9,633.4 L284.3,635.3 L284.7,637.3 L285.2,639.2 L285.6,641.2 L286.1,643.1 L286.5,645.1 L286.9,647.0 L287.4,649.0 L287.8,650.9 L288.3,652.9 L288.7,654.8 L289.2,656.8 L289.6,658.7 L290.1,660.7 L290.5,662.6 L291.0,664.6 L291.4,666.5 L291.9,668.5 L292.3,670.4 L292.8,672.4 L293.2,674.3 L293.7,676.3 L294.2,678.2 L294.6,680.2 L295.1,682.1 L295.6,684.1 L296.0,686.0 L296.5,688.0 L297.0,689.9 L297.4,691.8 L297.9,693.8 L298.4,695.7 L298.9,697.7 L299.4,699.6 L299.9,701.6 L300.3,703.5 L300.8,705.4 L301.3,707.4 L301.8,709.3 L302.3,711.3 L302.8,713.2 L303.3,715.1 L303.8,717.1 L304.3,719.0 L304.8,720.9 L305.4,722.9 L305.9,724.8 L306.4,726.7 L306.9,728.7 L307.4,730.6 L308.0,732.5 L308.5,734.5 L309.0,736.4 L309.6,738.3 L310.1,740.3 L310.6,742.2 L311.2,744.1 L311.7,746.0 L312.3,748.0 L312.8,749.9 L313.4,751.8 L314.0,753.7 L314.5,755.6 L315.1,757.6 L315.7,759.5 L316.2,761.4 L316.8,763.3 L317.4,765.2 L318.0,767.1 L318.6,769.1 L319.2,771.0 L319.7,772.9 L320.3,774.8 L321.0,776.7 L321.6,778.6 L322.2,780.5 L322.8,782.4 L323.4,784.3 L324.0,786.2 L324.6,788.1 L325.3,790.0 L325.9,791.9 L326.5,793.8 L327.2,795.7 L327.8,797.6 L328.5,799.5 L329.1,801.4 L329.8,803.3 L330.5,805.2 L331.1,807.1 L331.8,808.9 L332.5,810.8 L333.2,812.7 L333.9,814.6 L334.6,816.4 L335.3,818.3 L336.1,820.2 L336.8,822.0 L337.5,823.9 L338.3,825.7 L339.1,827.6 L339.8,829.4 L340.6,831.3 L341.4,833.1 L342.2,834.9 L343.0,836.8 L343.9,838.6 L344.7,840.4 L345.6,842.2 L346.4,844.0 L347.3,845.8 L348.2,847.6 L349.1,849.4 L350.0,851.2 L350.9,853.0 L351.8,854.7 L352.8,856.5 L353.8,858.2 L354.7,860.0 L355.7,861.7 L356.7,863.5 L357.7,865.2 L358.8,866.9 L359.8,868.6 L360.9,870.3 L361.9,872.0 L363.0,873.7 L364.1,875.4 L365.2,877.0 L366.3,878.7 L367.4,880.4 L368.6,882.0 L369.7,883.6 L370.9,885.3 L372.1,886.9 L373.3,888.5 L374.5,890.0 L375.8,891.6 L377.1,893.1 L378.4,894.7 L379.6,896.2 L381.0,897.7 L382.3,899.2 L383.6,900.7 L384.9,902.2 L386.2,903.7 L387.6,905.2 L388.9,906.7 L390.3,908.1 L391.8,909.5 L393.3,910.8 L394.8,912.1 L396.3,913.4 L397.9,914.6 L399.5,915.8 L401.1,917.0 L402.7,918.2 L404.3,919.4 L406.0,920.5 L407.6,921.6 L409.3,922.7 L411.0,923.7 L412.7,924.8 L414.4,925.8 L416.2,926.8 L417.9,927.8 L419.7,928.7 L421.5,929.6 L423.3,930.5 L425.1,931.4 L426.9,932.3 L428.7,933.1 L430.5,933.9 L432.4,934.7 L434.2,935.5 L436.1,936.2 L437.9,936.9 L439.8,937.6 L441.7,938.2 L443.6,938.8 L445.5,939.4 L447.4,940.0 L449.4,940.5 L451.3,941.1 L453.2,941.5 L455.2,942.0 L457.1,942.4 L459.1,942.8 L461.1,943.2 L463.0,943.5 L465.0,943.9 L467.0,944.2 L469.0,944.4 L470.9,944.7 L472.9,944.9 L474.9,945.2 L476.9,945.4 L478.9,945.6 L480.9,945.7 L482.9,945.9 L484.9,946.0 L486.9,946.2 L488.9,946.3 L490.9,946.4 L492.9,946.5 L494.9,946.6 L496.9,946.7 L498.9,946.8 L500.9,946.9 L502.9,947.0 L504.9,947.1 L506.9,947.2 L508.9,947.3 L510.9,947.4 L512.9,947.5 L514.9,947.6 L516.9,947.6 L518.9,947.7 L520.9,947.8 L522.9,947.9 L524.9,948.0 L526.9,948.1 L528.9,948.2 L530.9,948.3 L532.9,948.4 L534.9,948.5 L536.9,948.6 L538.9,948.7 L540.9,948.7 L542.9,948.8 L544.9,948.9 L546.9,949.0 L548.9,949.1 L550.9,949.2 L552.9,949.2 L554.9,949.3 L556.9,949.4 L558.9,949.5 L560.9,949.5 L562.9,949.6 L564.9,949.6 L566.9,949.7 L568.9,949.8 L570.9,949.8 L572.9,949.9 L574.9,949.9 L576.9,950.0 L578.9,950.0 L580.9,950.1 L582.9,950.1 L584.9,950.1 L586.9,950.2 L588.9,950.2 L590.9,950.3 L592.9,950.3 L594.9,950.4 L596.9,950.4 L598.9,950.5 L600.9,950.5 L602.9,950.6 L604.9,950.6 L606.9,950.7 L608.9,950.7 L610.9,950.8 L612.9,950.8 L614.9,950.9 L616.9,950.9 L618.9,951.0 L620.9,951.0 L622.9,951.1 L624.9,951.1 L626.9,951.2 L628.9,951.2 L630.9,951.3 L632.9,951.3 L634.9,951.4 L636.9,951.4 L638.9,951.5 L640.9,951.5 L642.9,951.6 L644.9,951.6 L646.9,951.7 L648.9,951.8 L650.9,951.8 L652.9,951.9 L654.9,951.9 L656.9,952.0 L658.9,952.0 L660.9,952.1 L662.9,952.2 L664.9,952.2 L666.9,952.3 L668.9,952.3 L670.9,952.4 L672.9,952.5 L674.9,952.5 L676.9,952.6 L678.9,952.7 L680.9,952.7 L682.9,952.8 L684.9,952.9 L686.9,953.0 L688.9,953.0 L690.9,953.1 L692.9,953.2 L694.9,953.3 L696.9,953.4 L698.9,953.5 L700.9,953.5 L702.9,953.6 L704.9,953.7 L706.9,953.8 L708.9,953.9 L710.9,954.1 L712.9,954.2 L714.9,954.3 L716.9,954.4 L718.9,954.6 L720.9,954.7 L722.9,954.9 L724.9,955.0 L726.9,955.2 L728.8,955.4 L730.8,955.6 L732.8,955.8 L734.8,956.0 L736.8,956.2 L738.8,956.4 L740.8,956.7 L742.8,956.9 L744.8,957.1 L746.8,957.4 L748.7,957.6 L750.7,957.9 L752.7,958.1 L754.7,958.4 L756.7,958.7 L758.7,958.9 L760.6,959.2 L762.6,959.5 L764.6,959.7 L766.6,960.0 L768.6,960.3 L770.6,960.6 L772.5,960.9 L774.5,961.1 L776.5,961.4 L778.5,961.7 L780.5,962.0 L782.4,962.3 L784.4,962.6 L786.4,962.9 L788.4,963.2 L790.4,963.5 L792.3,963.8 L794.3,964.1 L796.3,964.4 L798.3,964.7 L800.2,965.0 L802.2,965.4 L804.2,965.7 L806.2,966.1 L808.1,966.4 L810.1,966.8 L812.1,967.1 L814.0,967.5 L816.0,967.8 L818.0,968.2 L819.9,968.6 L821.9,968.9 L823.9,969.3 L825.8,969.7 L827.8,970.1 L829.8,970.5 L831.7,970.9 L833.7,971.3 L835.6,971.7 L837.6,972.1 L839.6,972.5 L841.5,972.9 L843.5,973.3 L845.4,973.8 L847.4,974.2 L849.3,974.7 L851.3,975.1 L853.2,975.6 L855.2,976.0 L857.1,976.5 L859.1,976.9 L861.0,977.4 L863.0,977.9 L864.9,978.3 L866.9,978.8 L868.8,979.2 L870.8,979.7 L872.7,980.1 L874.7,980.5 L876.6,981.0 L878.6,981.4 L880.5,981.8 L882.5,982.2 L884.5,982.7 L886.4,983.1 L888.4,983.5 L890.3,984.0 L892.3,984.4 L894.2,984.8 L896.2,985.3 L898.1,985.7 L900.1,986.1 L902.1,986.5 L904.0,986.9 L906.0,987.3 L908.0,987.6 L909.9,987.9 L911.9,988.3 L913.9,988.6 L915.9,988.8 L917.8,989.1 L919.8,989.3 L921.8,989.6 L923.8,989.8 L925.8,990.0 L927.8,990.3 L929.8,990.5 L931.8,990.7 L933.8,990.9 L935.8,991.0 L937.7,991.2 L939.7,991.4 L941.7,991.5 L943.7,991.7 L945.7,991.8 L947.7,991.9 L949.7,992.0 L951.7,992.1 L953.7,992.1 L955.7,992.2 L957.7,992.3 L959.7,992.3 L961.7,992.4 L963.7,992.4 L965.7,992.5 L967.7,992.5 L969.7,992.6 L971.7,992.6 L973.7,992.6 L975.7,992.7 L977.7,992.7 L979.7,992.7 L981.7,992.8 L983.7,992.8 L985.7,992.8 L987.7,992.9 L989.7,992.9 L991.7,992.9 L993.7,992.9 L995.7,993.0 L997.7,993.0 L999.7,993.0 L1001.8,993.0 L1003.8,993.0 L1005.8,993.1 L1007.8,993.1 L1009.8,993.1 L1011.8,993.1 L1013.8,993.1 L1015.8,993.2 L1017.8,993.2 L1019.8,993.2 L1021.8,993.2 L1023.8,993.2 L1025.8,993.2 L1027.8,993.3 L1029.8,993.3 L1031.8,993.3 L1033.8,993.3 L1035.8,993.3 L1037.8,993.3 L1039.8,993.4 L1041.8,993.4 L1043.8,993.4 L1045.8,993.4 L1047.8,993.4 L1049.8,993.4 L1051.8,993.4 L1053.8,993.5 L1055.8,993.5 L1057.8,993.5 L1059.8,993.5 L1061.8,993.5 L1063.8,993.5 L1065.8,993.5 L1067.8,993.5 L1069.8,993.6 L1071.8,993.6 L1073.8,993.6 L1075.8,993.6 L1077.8,993.6 L1079.8,993.6 L1081.8,993.6 L1083.8,993.6 L1085.8,993.6 L1087.8,993.6 L1089.8,993.7 L1091.8,993.7 L1093.8,993.7 L1095.8,993.7 L1097.8,993.7 L1099.8,993.7 L1101.8,993.7 L1103.8,993.7 L1105.8,993.7 L1107.8,993.7 L1109.8,993.7 L1111.8,993.7 L1113.8,993.8 L1115.8,993.8 L1117.8,993.8 L1119.8,993.8 L1121.8,993.8 L1123.8,993.8 L1125.8,993.8 L1127.8,993.8 L1129.8,993.8 L1131.8,993.8 L1133.8,993.8 L1135.8,993.8 L1137.8,993.8 L1139.8,993.8 L1141.8,993.9 L1143.8,993.9 L1145.8,993.9 L1147.8,993.9 L1149.8,993.9 L1151.9,993.9 L1153.9,993.9 L1155.9,993.9 L1157.9,993.9 L1159.9,993.9 L1161.9,993.9 L1163.9,993.9 L1165.9,993.9 L1167.9,993.9 L1169.9,993.9 L1171.9,993.9 L1173.9,993.9 L1175.9,993.9 L1177.9,994.0 L1179.9,994.0 L1181.9,994.0 L1183.9,994.0 L1185.9,994.0 L1187.9,994.0 L1189.9,994.0 L1191.9,994.0 L1193.9,994.0 L1195.9,994.0 L1197.9,994.0 L1199.9,994.0 L1201.9,994.0 L1203.9,994.0 L1205.9,994.0 L1207.9,994.0 L1209.9,994.0 L1211.9,994.0 L1213.9,994.0 L1215.9,994.0 L1217.9,994.0 L1219.9,994.0 L1221.9,994.0 L1223.9,994.0 L1225.9,994.0 L1227.9,994.0 L1229.9,994.1 L1231.9,994.1 L1233.9,994.1 L1235.9,994.1 L1237.9,994.1 L1239.9,994.1 L1241.9,994.1 L1243.9,994.1 L1245.9,994.1 L1247.9,994.1 L1249.9,994.1 L1251.9,994.1 L1253.9,994.1 L1255.9,994.1 L1257.9,994.1 L1259.9,994.1 L1261.9,994.1 L1263.9,994.1 L1265.9,994.1 L1267.9,994.1 L1269.9,994.1 L1271.9,994.1 L1273.9,994.1 L1275.9,994.1 L1277.9,994.1 L1279.9,994.1 L1281.9,994.1 L1283.9,994.1 L1285.9,994.1 L1287.9,994.1 L1289.9,994.1 L1291.9,994.1 L1293.9,994.1 L1296.0,994.2 L1298.0,994.2 L1300.0,994.2 L1302.0,994.2 L1304.0,994.2 L1306.0,994.2 L1308.0,994.2 L1310.0,994.2 L1312.0,994.2 L1314.0,994.2 L1316.0,994.2 L1318.0,994.2 L1320.0,994.2 L1322.0,994.2 L1324.0,994.2 L1326.0,994.2 L1328.0,994.2 L1330.0,994.2 L1332.0,994.2 L1334.0,994.2 L1336.0,994.2 L1338.0,994.2 L1340.0,994.2 L1342.0,994.2 L1344.0,994.2 L1346.0,994.2 L1348.0,994.2 L1350.0,994.2 L1352.0,994.2 L1354.0,994.2 L1356.0,994.2 L1358.0,994.2 L1360.0,994.2 L1362.0,994.2 L1364.0,994.2 L1366.0,994.2 L1368.0,994.2" fill="none" stroke="#f21e1e" stroke-width="5.2" stroke-linecap="round" stroke-linejoin="round" clip-path="url(#cin)"/>
<path d="M166.5,107.1 L166.7,109.1 L166.9,111.1 L167.0,113.1 L167.2,115.1 L167.4,117.1 L167.6,119.1 L167.7,121.0 L167.9,123.0 L168.1,125.0 L168.2,127.0 L168.4,129.0 L168.5,131.0 L168.6,133.0 L168.8,135.0 L168.9,137.0 L169.0,139.0 L169.1,141.0 L169.3,143.0 L169.4,145.0 L169.5,147.0 L169.7,149.0 L169.8,151.0 L169.9,153.0 L170.1,155.0 L170.2,157.0 L170.3,159.0 L170.5,161.0 L170.6,163.0 L170.8,165.0 L171.0,167.0 L171.1,169.0 L171.3,171.0 L171.5,172.9 L171.7,174.9 L171.9,176.9 L172.1,178.9 L172.3,180.9 L172.5,182.9 L172.8,184.9 L173.0,186.9 L173.3,188.9 L173.5,190.8 L173.8,192.8 L174.1,194.8 L174.4,196.8 L174.7,198.8 L175.0,200.7 L175.3,202.7 L175.6,204.7 L175.9,206.7 L176.3,208.6 L176.6,210.6 L177.0,212.6 L177.3,214.6 L177.7,216.5 L178.0,218.5 L178.4,220.5 L178.8,222.4 L179.2,224.4 L179.6,226.3 L180.0,228.3 L180.4,230.3 L180.8,232.2 L181.2,234.2 L181.6,236.1 L182.1,238.1 L182.5,240.1 L182.9,242.0 L183.4,244.0 L183.8,245.9 L184.3,247.9 L184.7,249.8 L185.2,251.8 L185.6,253.7 L186.1,255.7 L186.6,257.6 L187.0,259.5 L187.5,261.5 L188.0,263.4 L188.5,265.4 L188.9,267.3 L189.4,269.3 L189.9,271.2 L190.4,273.1 L190.9,275.1 L191.4,277.0 L191.9,279.0 L192.4,280.9 L192.9,282.8 L193.4,284.8 L193.9,286.7 L194.4,288.7 L194.9,290.6 L195.4,292.5 L195.9,294.5 L196.4,296.4 L196.9,298.3 L197.4,300.3 L198.0,302.2 L198.5,304.1 L199.0,306.1 L199.5,308.0 L200.1,309.9 L200.6,311.9 L201.1,313.8 L201.6,315.7 L202.2,317.6 L202.7,319.6 L203.2,321.5 L203.8,323.4 L204.3,325.4 L204.8,327.3 L205.4,329.2 L205.9,331.1 L206.5,333.1 L207.0,335.0 L207.5,336.9 L208.1,338.8 L208.6,340.8 L209.2,342.7 L209.7,344.6 L210.3,346.5 L210.8,348.5 L211.4,350.4 L211.9,352.3 L212.5,354.2 L213.0,356.2 L213.6,358.1 L214.1,360.0 L214.7,361.9 L215.2,363.9 L215.8,365.8 L216.3,367.7 L216.9,369.6 L217.4,371.6 L218.0,373.5 L218.5,375.4 L219.1,377.3 L219.7,379.2 L220.2,381.2 L220.8,383.1 L221.3,385.0 L221.9,386.9 L222.4,388.9 L223.0,390.8 L223.6,392.7 L224.1,394.6 L224.7,396.6 L225.2,398.5 L225.8,400.4 L226.3,402.3 L226.9,404.2 L227.4,406.2 L228.0,408.1 L228.6,410.0 L229.1,411.9 L229.7,413.9 L230.2,415.8 L230.8,417.7 L231.3,419.6 L231.9,421.6 L232.4,423.5 L233.0,425.4 L233.5,427.3 L234.1,429.3 L234.6,431.2 L235.2,433.1 L235.7,435.0 L236.2,437.0 L236.8,438.9 L237.3,440.8 L237.9,442.7 L238.4,444.7 L239.0,446.6 L239.5,448.5 L240.0,450.4 L240.6,452.4 L241.1,454.3 L241.6,456.2 L242.2,458.2 L242.7,460.1 L243.2,462.0 L243.8,463.9 L244.3,465.9 L244.8,467.8 L245.3,469.7 L245.9,471.7 L246.4,473.6 L246.9,475.5 L247.4,477.5 L247.9,479.4 L248.5,481.3 L249.0,483.3 L249.5,485.2 L250.0,487.1 L250.5,489.1 L251.0,491.0 L251.5,493.0 L252.0,494.9 L252.5,496.8 L253.0,498.8 L253.5,500.7 L254.0,502.6 L254.5,504.6 L255.0,506.5 L255.4,508.5 L255.9,510.4 L256.4,512.4 L256.9,514.3 L257.4,516.2 L257.8,518.2 L258.3,520.1 L258.8,522.1 L259.2,524.0 L259.7,526.0 L260.2,527.9 L260.6,529.9 L261.1,531.8 L261.6,533.8 L262.0,535.7 L262.5,537.7 L262.9,539.6 L263.4,541.6 L263.8,543.5 L264.3,545.5 L264.7,547.4 L265.2,549.4 L265.6,551.3 L266.1,553.3 L266.5,555.2 L267.0,557.2 L267.4,559.1 L267.9,561.1 L268.3,563.0 L268.7,565.0 L269.2,566.9 L269.6,568.9 L270.1,570.8 L270.5,572.8 L270.9,574.7 L271.4,576.7 L271.8,578.6 L272.2,580.6 L272.7,582.5 L273.1,584.5 L273.5,586.5 L274.0,588.4 L274.4,590.4 L274.8,592.3 L275.2,594.3 L275.7,596.2 L276.1,598.2 L276.5,600.1 L277.0,602.1 L277.4,604.0 L277.8,606.0 L278.3,608.0 L278.7,609.9 L279.1,611.9 L279.5,613.8 L280.0,615.8 L280.4,617.7 L280.8,619.7 L281.3,621.6 L281.7,623.6 L282.1,625.5 L282.6,627.5 L283.0,629.5 L283.4,631.4 L283.9,633.4 L284.3,635.3 L284.7,637.3 L285.2,639.2 L285.6,641.2 L286.1,643.1 L286.5,645.1 L286.9,647.0 L287.4,649.0 L287.8,650.9 L288.3,652.9 L288.7,654.8 L289.2,656.8 L289.6,658.7 L290.1,660.7 L290.5,662.6 L291.0,664.6 L291.4,666.5 L291.9,668.5 L292.3,670.4 L292.8,672.4 L293.2,674.3 L293.7,676.3 L294.2,678.2 L294.6,680.2 L295.1,682.1 L295.6,684.1 L296.0,686.0 L296.5,688.0 L297.0,689.9 L297.4,691.8 L297.9,693.8 L298.4,695.7 L298.9,697.7 L299.4,699.6 L299.9,701.6 L300.3,703.5 L300.8,705.4 L301.3,707.4 L301.8,709.3 L302.3,711.3 L302.8,713.2 L303.3,715.1 L303.8,717.1 L304.3,719.0 L304.8,720.9 L305.4,722.9 L305.9,724.8 L306.4,726.7 L306.9,728.7 L307.4,730.6 L308.0,732.5 L308.5,734.5 L309.0,736.4 L309.6,738.3 L310.1,740.3 L310.6,742.2 L311.2,744.1 L311.7,746.0 L312.3,748.0 L312.8,749.9 L313.4,751.8 L314.0,753.7 L314.5,755.6 L315.1,757.6 L315.7,759.5 L316.2,761.4 L316.8,763.3 L317.4,765.2 L318.0,767.1 L318.6,769.1 L319.2,771.0 L319.7,772.9 L320.3,774.8 L321.0,776.7 L321.6,778.6 L322.2,780.5 L322.8,782.4 L323.4,784.3 L324.0,786.2 L324.6,788.1 L325.3,790.0 L325.9,791.9 L326.5,793.8 L327.2,795.7 L327.8,797.6 L328.5,799.5 L329.1,801.4 L329.8,803.3 L330.5,805.2 L331.1,807.1 L331.8,808.9 L332.5,810.8 L333.2,812.7 L333.9,814.6 L334.6,816.4 L335.3,818.3 L336.1,820.2 L336.8,822.0 L337.5,823.9 L338.3,825.7 L339.1,827.6 L339.8,829.4 L340.6,831.3 L341.4,833.1 L342.2,834.9 L343.0,836.8 L343.9,838.6 L344.7,840.4 L345.6,842.2 L346.4,844.0 L347.3,845.8 L348.2,847.6 L349.1,849.4 L350.0,851.2 L350.9,853.0 L351.8,854.7 L352.8,856.5 L353.8,858.2 L354.7,860.0 L355.7,861.7 L356.7,863.5 L357.7,865.2 L358.8,866.9 L359.8,868.6 L360.9,870.3 L361.9,872.0 L363.0,873.7 L364.1,875.4 L365.2,877.0 L366.3,878.7 L367.4,880.4 L368.6,882.0 L369.7,883.6 L370.9,885.3 L372.1,886.9 L373.3,888.5 L374.5,890.0 L375.8,891.6 L377.1,893.1 L378.4,894.7 L379.6,896.2 L381.0,897.7 L382.3,899.2 L383.6,900.7 L384.9,902.2 L386.2,903.7 L387.6,905.2 L388.9,906.7 L390.3,908.1 L391.8,909.5 L393.3,910.8 L394.8,912.1 L396.3,913.4 L397.9,914.6 L399.5,915.8 L401.1,917.0 L402.7,918.2 L404.3,919.4 L406.0,920.5 L407.6,921.6 L409.3,922.7 L411.0,923.7 L412.7,924.8 L414.4,925.8 L416.2,926.8 L417.9,927.8 L419.7,928.7 L421.5,929.6 L423.3,930.5 L425.1,931.4 L426.9,932.3 L428.7,933.1 L430.5,933.9 L432.4,934.7 L434.2,935.5 L436.1,936.2 L437.9,936.9 L439.8,937.6 L441.7,938.2 L443.6,938.8 L445.5,939.4 L447.4,940.0 L449.4,940.5 L451.3,941.1 L453.2,941.5 L455.2,942.0 L457.1,942.4 L459.1,942.8 L461.1,943.2 L463.0,943.5 L465.0,943.9 L467.0,944.2 L469.0,944.4 L470.9,944.7 L472.9,944.9 L474.9,945.2 L476.9,945.4 L478.9,945.6 L480.9,945.7 L482.9,945.9 L484.9,946.0 L486.9,946.2 L488.9,946.3 L490.9,946.4 L492.9,946.5 L494.9,946.6 L496.9,946.7 L498.9,946.8 L500.9,946.9 L502.9,947.0 L504.9,947.1 L506.9,947.2 L508.9,947.3 L510.9,947.4 L512.9,947.5 L514.9,947.6 L516.9,947.6 L518.9,947.7 L520.9,947.8 L522.9,947.9 L524.9,948.0 L526.9,948.1 L528.9,948.2 L530.9,948.3 L532.9,948.4 L534.9,948.5 L536.9,948.6 L538.9,948.7 L540.9,948.7 L542.9,948.8 L544.9,948.9 L546.9,949.0 L548.9,949.1 L550.9,949.2 L552.9,949.2 L554.9,949.3 L556.9,949.4 L558.9,949.5 L560.9,949.5 L562.9,949.6 L564.9,949.6 L566.9,949.7 L568.9,949.8 L570.9,949.8 L572.9,949.9 L574.9,949.9 L576.9,950.0 L578.9,950.0 L580.9,950.1 L582.9,950.1 L584.9,950.1 L586.9,950.2 L588.9,950.2 L590.9,950.3 L592.9,950.3 L594.9,950.4 L596.9,950.4 L598.9,950.5 L600.9,950.5 L602.9,950.6 L604.9,950.6 L606.9,950.7 L608.9,950.7 L610.9,950.8 L612.9,950.8 L614.9,950.9 L616.9,950.9 L618.9,951.0 L620.9,951.0 L622.9,951.1 L624.9,951.1 L626.9,951.2 L628.9,951.2 L630.9,951.3 L632.9,951.3 L634.9,951.4 L636.9,951.4 L638.9,951.5 L640.9,951.5 L642.9,951.6 L644.9,951.6 L646.9,951.7 L648.9,951.8 L650.9,951.8 L652.9,951.9 L654.9,951.9 L656.9,952.0 L658.9,952.0 L660.9,952.1 L662.9,952.2 L664.9,952.2 L666.9,952.3 L668.9,952.3 L670.9,952.4 L672.9,952.5 L674.9,952.5 L676.9,952.6 L678.9,952.7 L680.9,952.7 L682.9,952.8 L684.9,952.9 L686.9,953.0 L688.9,953.0 L690.9,953.1 L692.9,953.2 L694.9,953.3 L696.9,953.4 L698.9,953.5 L700.9,953.5 L702.9,953.6 L704.9,953.7 L706.9,953.8 L708.9,953.9 L710.9,954.1 L712.9,954.2 L714.9,954.3 L716.9,954.4 L718.9,954.6 L720.9,954.7 L722.9,954.9 L724.9,955.0 L726.9,955.2 L728.8,955.4 L730.8,955.6 L732.8,955.8 L734.8,956.0 L736.8,956.2 L738.8,956.4 L740.8,956.7 L742.8,956.9 L744.8,957.1 L746.8,957.4 L748.7,957.6 L750.7,957.9 L752.7,958.1 L754.7,958.4 L756.7,958.7 L758.7,958.9 L760.6,959.2 L762.6,959.5 L764.6,959.7 L766.6,960.0 L768.6,960.3 L770.6,960.6 L772.5,960.9 L774.5,961.1 L776.5,961.4 L778.5,961.7 L780.5,962.0 L782.4,962.3 L784.4,962.6 L786.4,962.9 L788.4,963.2 L790.4,963.5 L792.3,963.8 L794.3,964.1 L796.3,964.4 L798.3,964.7 L800.2,965.0 L802.2,965.4 L804.2,965.7 L806.2,966.1 L808.1,966.4 L810.1,966.8 L812.1,967.1 L814.0,967.5 L816.0,967.8 L818.0,968.2 L819.9,968.6 L821.9,968.9 L823.9,969.3 L825.8,969.7 L827.8,970.1 L829.8,970.5 L831.7,970.9 L833.7,971.3 L835.6,971.7 L837.6,972.1 L839.6,972.5 L841.5,972.9 L843.5,973.3 L845.4,973.8 L847.4,974.2 L849.3,974.7 L851.3,975.1 L853.2,975.6 L855.2,976.0 L857.1,976.5 L859.1,976.9 L861.0,977.4 L863.0,977.9 L864.9,978.3 L866.9,978.8 L868.8,979.2 L870.8,979.7 L872.7,980.1 L874.7,980.5 L876.6,981.0 L878.6,981.4 L880.5,981.8 L882.5,982.2 L884.5,982.7 L886.4,983.1 L888.4,983.5 L890.3,984.0 L892.3,984.4 L894.2,984.8 L896.2,985.3 L898.1,985.7 L900.1,986.1 L902.1,986.5 L904.0,986.9 L906.0,987.3 L908.0,987.6 L909.9,987.9 L911.9,988.3 L913.9,988.6 L915.9,988.8 L917.8,989.1 L919.8,989.3 L921.8,989.6 L923.8,989.8 L925.8,990.0 L927.8,990.3 L929.8,990.5 L931.8,990.7 L933.8,990.9 L935.8,991.0 L937.7,991.2 L939.7,991.4 L941.7,991.5 L943.7,991.7 L945.7,991.8 L947.7,991.9 L949.7,992.0 L951.7,992.1 L953.7,992.1 L955.7,992.2 L957.7,992.3 L959.7,992.3 L961.7,992.4 L963.7,992.4 L965.7,992.5 L967.7,992.5 L969.7,992.6 L971.7,992.6 L973.7,992.6 L975.7,992.7 L977.7,992.7 L979.7,992.7 L981.7,992.8 L983.7,992.8 L985.7,992.8 L987.7,992.9 L989.7,992.9 L991.7,992.9 L993.7,992.9 L995.7,993.0 L997.7,993.0 L999.7,993.0 L1001.8,993.0 L1003.8,993.0 L1005.8,993.1 L1007.8,993.1 L1009.8,993.1 L1011.8,993.1 L1013.8,993.1 L1015.8,993.2 L1017.8,993.2 L1019.8,993.2 L1021.8,993.2 L1023.8,993.2 L1025.8,993.2 L1027.8,993.3 L1029.8,993.3 L1031.8,993.3 L1033.8,993.3 L1035.8,993.3 L1037.8,993.3 L1039.8,993.4 L1041.8,993.4 L1043.8,993.4 L1045.8,993.4 L1047.8,993.4 L1049.8,993.4 L1051.8,993.4 L1053.8,993.5 L1055.8,993.5 L1057.8,993.5 L1059.8,993.5 L1061.8,993.5 L1063.8,993.5 L1065.8,993.5 L1067.8,993.5 L1069.8,993.6 L1071.8,993.6 L1073.8,993.6 L1075.8,993.6 L1077.8,993.6 L1079.8,993.6 L1081.8,993.6 L1083.8,993.6 L1085.8,993.6 L1087.8,993.6 L1089.8,993.7 L1091.8,993.7 L1093.8,993.7 L1095.8,993.7 L1097.8,993.7 L1099.8,993.7 L1101.8,993.7 L1103.8,993.7 L1105.8,993.7 L1107.8,993.7 L1109.8,993.7 L1111.8,993.7 L1113.8,993.8 L1115.8,993.8 L1117.8,993.8 L1119.8,993.8 L1121.8,993.8 L1123.8,993.8 L1125.8,993.8 L1127.8,993.8 L1129.8,993.8 L1131.8,993.8 L1133.8,993.8 L1135.8,993.8 L1137.8,993.8 L1139.8,993.8 L1141.8,993.9 L1143.8,993.9 L1145.8,993.9 L1147.8,993.9 L1149.8,993.9 L1151.9,993.9 L1153.9,993.9 L1155.9,993.9 L1157.9,993.9 L1159.9,993.9 L1161.9,993.9 L1163.9,993.9 L1165.9,993.9 L1167.9,993.9 L1169.9,993.9 L1171.9,993.9 L1173.9,993.9 L1175.9,993.9 L1177.9,994.0 L1179.9,994.0 L1181.9,994.0 L1183.9,994.0 L1185.9,994.0 L1187.9,994.0 L1189.9,994.0 L1191.9,994.0 L1193.9,994.0 L1195.9,994.0 L1197.9,994.0 L1199.9,994.0 L1201.9,994.0 L1203.9,994.0 L1205.9,994.0 L1207.9,994.0 L1209.9,994.0 L1211.9,994.0 L1213.9,994.0 L1215.9,994.0 L1217.9,994.0 L1219.9,994.0 L1221.9,994.0 L1223.9,994.0 L1225.9,994.0 L1227.9,994.0 L1229.9,994.1 L1231.9,994.1 L1233.9,994.1 L1235.9,994.1 L1237.9,994.1 L1239.9,994.1 L1241.9,994.1 L1243.9,994.1 L1245.9,994.1 L1247.9,994.1 L1249.9,994.1 L1251.9,994.1 L1253.9,994.1 L1255.9,994.1 L1257.9,994.1 L1259.9,994.1 L1261.9,994.1 L1263.9,994.1 L1265.9,994.1 L1267.9,994.1 L1269.9,994.1 L1271.9,994.1 L1273.9,994.1 L1275.9,994.1 L1277.9,994.1 L1279.9,994.1 L1281.9,994.1 L1283.9,994.1 L1285.9,994.1 L1287.9,994.1 L1289.9,994.1 L1291.9,994.1 L1293.9,994.1 L1296.0,994.2 L1298.0,994.2 L1300.0,994.2 L1302.0,994.2 L1304.0,994.2 L1306.0,994.2 L1308.0,994.2 L1310.0,994.2 L1312.0,994.2 L1314.0,994.2 L1316.0,994.2 L1318.0,994.2 L1320.0,994.2 L1322.0,994.2 L1324.0,994.2 L1326.0,994.2 L1328.0,994.2 L1330.0,994.2 L1332.0,994.2 L1334.0,994.2 L1336.0,994.2 L1338.0,994.2 L1340.0,994.2 L1342.0,994.2 L1344.0,994.2 L1346.0,994.2 L1348.0,994.2 L1350.0,994.2 L1352.0,994.2 L1354.0,994.2 L1356.0,994.2 L1358.0,994.2 L1360.0,994.2 L1362.0,994.2 L1364.0,994.2 L1366.0,994.2 L1368.0,994.2" fill="none" stroke="#f00" stroke-width="5.2" stroke-linecap="round" stroke-linejoin="round" clip-path="url(#cout)"/>
<path d="M157.5,140.3 L157.8,142.3 L158.2,144.2 L158.6,146.2 L159.0,148.1 L159.4,150.1 L159.9,152.0 L160.4,154.0 L160.9,155.9 L161.5,157.8 L162.1,159.7 L162.7,161.7 L163.3,163.6 L163.9,165.4 L164.6,167.3 L165.3,169.2 L166.0,171.1 L166.7,173.0 L167.4,174.8 L168.2,176.7 L169.0,178.5 L169.8,180.3 L170.6,182.2 L171.4,184.0 L172.2,185.8 L173.1,187.6 L173.9,189.4 L174.8,191.3 L175.6,193.1 L176.5,194.8 L177.4,196.6 L178.3,198.4 L179.2,200.2 L180.2,202.0 L181.1,203.8 L182.0,205.5 L182.9,207.3 L183.9,209.1 L184.8,210.8 L185.8,212.6 L186.8,214.3 L187.7,216.1 L188.7,217.8 L189.6,219.6 L190.6,221.3 L191.6,223.1 L192.6,224.8 L193.5,226.6 L194.5,228.3 L195.5,230.1 L196.5,231.8 L197.4,233.6 L198.4,235.3 L199.4,237.1 L200.4,238.8 L201.3,240.6 L202.3,242.3 L203.2,244.1 L204.2,245.8 L205.2,247.6 L206.1,249.4 L207.1,251.1 L208.0,252.9 L208.9,254.7 L209.9,256.4 L210.8,258.2 L211.7,260.0 L212.6,261.7 L213.5,263.5 L214.5,265.3 L215.4,267.1 L216.2,268.9 L217.1,270.7 L218.0,272.5 L218.9,274.3 L219.8,276.1 L220.7,277.9 L221.5,279.7 L222.4,281.5 L223.2,283.3 L224.1,285.1 L224.9,286.9 L225.8,288.7 L226.6,290.5 L227.4,292.4 L228.3,294.2 L229.1,296.0 L229.9,297.8 L230.7,299.7 L231.5,301.5 L232.3,303.3 L233.1,305.2 L233.9,307.0 L234.7,308.8 L235.5,310.7 L236.3,312.5 L237.0,314.4 L237.8,316.2 L238.6,318.1 L239.3,319.9 L240.1,321.8 L240.8,323.6 L241.6,325.5 L242.3,327.4 L243.0,329.2 L243.8,331.1 L244.5,332.9 L245.2,334.8 L245.9,336.7 L246.7,338.5 L247.4,340.4 L248.1,342.3 L248.8,344.2 L249.5,346.0 L250.2,347.9 L250.8,349.8 L251.5,351.7 L252.2,353.6 L252.9,355.4 L253.6,357.3 L254.2,359.2 L254.9,361.1 L255.5,363.0 L256.2,364.9 L256.9,366.8 L257.5,368.7 L258.1,370.6 L258.8,372.4 L259.4,374.3 L260.1,376.2 L260.7,378.1 L261.3,380.0 L261.9,381.9 L262.6,383.8 L263.2,385.7 L263.8,387.7 L264.4,389.6 L265.0,391.5 L265.6,393.4 L266.2,395.3 L266.8,397.2 L267.4,399.1 L268.0,401.0 L268.6,402.9 L269.2,404.8 L269.7,406.8 L270.3,408.7 L270.9,410.6 L271.5,412.5 L272.0,414.4 L272.6,416.3 L273.2,418.3 L273.7,420.2 L274.3,422.1 L274.9,424.0 L275.4,425.9 L276.0,427.9 L276.5,429.8 L277.1,431.7 L277.6,433.6 L278.1,435.6 L278.7,437.5 L279.2,439.4 L279.8,441.3 L280.3,443.3 L280.8,445.2 L281.4,447.1 L281.9,449.1 L282.4,451.0 L282.9,452.9 L283.5,454.9 L284.0,456.8 L284.5,458.7 L285.0,460.6 L285.6,462.6 L286.1,464.5 L286.6,466.4 L287.1,468.4 L287.6,470.3 L288.1,472.3 L288.6,474.2 L289.1,476.1 L289.7,478.1 L290.2,480.0 L290.7,481.9 L291.2,483.9 L291.7,485.8 L292.2,487.7 L292.7,489.7 L293.2,491.6 L293.7,493.5 L294.2,495.5 L294.7,497.4 L295.2,499.4 L295.7,501.3 L296.2,503.2 L296.7,505.2 L297.2,507.1 L297.7,509.0 L298.2,511.0 L298.7,512.9 L299.1,514.9 L299.6,516.8 L300.1,518.7 L300.6,520.7 L301.1,522.6 L301.6,524.6 L302.1,526.5 L302.6,528.4 L303.1,530.4 L303.6,532.3 L304.1,534.3 L304.5,536.2 L305.0,538.1 L305.5,540.1 L306.0,542.0 L306.5,544.0 L307.0,545.9 L307.5,547.8 L307.9,549.8 L308.4,551.7 L308.9,553.7 L309.4,555.6 L309.9,557.6 L310.4,559.5 L310.9,561.4 L311.3,563.4 L311.8,565.3 L312.3,567.3 L312.8,569.2 L313.3,571.1 L313.8,573.1 L314.2,575.0 L314.7,577.0 L315.2,578.9 L315.7,580.9 L316.2,582.8 L316.7,584.7 L317.1,586.7 L317.6,588.6 L318.1,590.6 L318.6,592.5 L319.1,594.4 L319.6,596.4 L320.1,598.3 L320.5,600.3 L321.0,602.2 L321.5,604.1 L322.0,606.1 L322.5,608.0 L323.0,610.0 L323.5,611.9 L323.9,613.8 L324.4,615.8 L324.9,617.7 L325.4,619.7 L325.9,621.6 L326.4,623.6 L326.9,625.5 L327.4,627.4 L327.9,629.4 L328.4,631.3 L328.9,633.2 L329.3,635.2 L329.8,637.1 L330.3,639.1 L330.8,641.0 L331.3,642.9 L331.8,644.9 L332.3,646.8 L332.8,648.8 L333.3,650.7 L333.8,652.6 L334.3,654.6 L334.8,656.5 L335.3,658.4 L335.8,660.4 L336.3,662.3 L336.8,664.2 L337.3,666.2 L337.8,668.1 L338.4,670.1 L338.9,672.0 L339.4,673.9 L339.9,675.9 L340.4,677.8 L340.9,679.7 L341.4,681.7 L341.9,683.6 L342.5,685.5 L343.0,687.5 L343.5,689.4 L344.0,691.3 L344.5,693.3 L345.1,695.2 L345.6,697.1 L346.1,699.1 L346.6,701.0 L347.2,702.9 L347.7,704.8 L348.2,706.8 L348.7,708.7 L349.3,710.6 L349.8,712.6 L350.4,714.5 L350.9,716.4 L351.4,718.3 L352.0,720.3 L352.5,722.2 L353.1,724.1 L353.6,726.0 L354.2,728.0 L354.7,729.9 L355.3,731.8 L355.9,733.7 L356.4,735.6 L357.0,737.6 L357.6,739.5 L358.2,741.4 L358.7,743.3 L359.3,745.2 L359.9,747.1 L360.5,749.0 L361.1,750.9 L361.7,752.9 L362.3,754.8 L362.9,756.7 L363.5,758.6 L364.2,760.5 L364.8,762.4 L365.4,764.3 L366.0,766.2 L366.7,768.1 L367.3,770.0 L368.0,771.9 L368.6,773.7 L369.3,775.6 L370.0,777.5 L370.6,779.4 L371.3,781.3 L372.0,783.2 L372.7,785.1 L373.4,786.9 L374.1,788.8 L374.8,790.7 L375.5,792.5 L376.2,794.4 L376.9,796.3 L377.6,798.1 L378.4,800.0 L379.1,801.9 L379.9,803.7 L380.6,805.6 L381.4,807.4 L382.2,809.3 L382.9,811.1 L383.7,813.0 L384.5,814.8 L385.3,816.6 L386.1,818.5 L386.9,820.3 L387.7,822.1 L388.6,823.9 L389.4,825.8 L390.2,827.6 L391.1,829.4 L391.9,831.2 L392.8,833.0 L393.6,834.8 L394.5,836.6 L395.4,838.4 L396.3,840.2 L397.1,842.0 L398.0,843.8 L398.9,845.6 L399.7,847.4 L400.6,849.2 L401.5,851.0 L402.3,852.8 L403.2,854.6 L404.1,856.4 L405.1,858.2 L406.1,859.9 L407.1,861.6 L408.1,863.4 L409.1,865.1 L410.2,866.8 L411.2,868.5 L412.3,870.1 L413.4,871.8 L414.6,873.4 L415.7,875.1 L416.9,876.7 L418.1,878.3 L419.3,879.9 L420.6,881.5 L421.8,883.0 L423.1,884.5 L424.4,886.0 L425.7,887.5 L427.1,889.0 L428.5,890.5 L429.9,891.9 L431.3,893.3 L432.7,894.7 L434.2,896.0 L435.7,897.4 L437.2,898.7 L438.7,900.0 L440.3,901.2 L441.9,902.5 L443.5,903.7 L445.1,904.9 L446.7,906.0 L448.3,907.2 L450.0,908.3 L451.6,909.4 L453.3,910.5 L455.0,911.6 L456.7,912.6 L458.4,913.7 L460.1,914.7 L461.9,915.7 L463.6,916.7 L465.4,917.6 L467.1,918.6 L468.9,919.5 L470.7,920.4 L472.5,921.3 L474.3,922.2 L476.1,923.0 L477.9,923.9 L479.7,924.7 L481.6,925.5 L483.4,926.2 L485.3,927.0 L487.1,927.7 L489.0,928.4 L490.9,929.1 L492.7,929.8 L494.6,930.4 L496.5,931.1 L498.4,931.7 L500.4,932.3 L502.3,932.8 L504.2,933.4 L506.1,933.9 L508.1,934.4 L510.0,934.9 L511.9,935.4 L513.9,935.9 L515.8,936.3 L517.8,936.7 L519.7,937.1 L521.7,937.5 L523.7,937.9 L525.6,938.3 L527.6,938.6 L529.6,938.9 L531.6,939.2 L533.5,939.5 L535.5,939.8 L537.5,940.1 L539.5,940.3 L541.5,940.5 L543.5,940.8 L545.5,941.0 L547.5,941.2 L549.4,941.3 L551.4,941.5 L553.4,941.7 L555.4,941.8 L557.4,941.9 L559.4,942.0 L561.4,942.1 L563.4,942.2 L565.4,942.3 L567.4,942.4 L569.4,942.5 L571.4,942.6 L573.4,942.7 L575.4,942.7 L577.4,942.8 L579.4,942.9 L581.4,943.0 L583.4,943.0 L585.4,943.1 L587.4,943.2 L589.4,943.2 L591.4,943.3 L593.4,943.3 L595.4,943.4 L597.4,943.4 L599.4,943.5 L601.4,943.5 L603.4,943.6 L605.4,943.6 L607.4,943.6 L609.4,943.7 L611.4,943.7 L613.4,943.7 L615.4,943.7 L617.4,943.8 L619.4,943.8 L621.4,943.8 L623.4,943.8 L625.4,943.9 L627.4,943.9 L629.4,943.9 L631.4,944.0 L633.4,944.0 L635.4,944.0 L637.4,944.1 L639.4,944.1 L641.4,944.1 L643.4,944.2 L645.4,944.2 L647.4,944.3 L649.4,944.4 L651.4,944.4 L653.4,944.5 L655.4,944.6 L657.4,944.6 L659.4,944.7 L661.4,944.8 L663.4,944.9 L665.4,945.0 L667.4,945.1 L669.4,945.1 L671.4,945.2 L673.4,945.3 L675.4,945.4 L677.4,945.5 L679.4,945.7 L681.4,945.8 L683.4,945.9 L685.4,946.0 L687.4,946.1 L689.4,946.2 L691.4,946.3 L693.4,946.5 L695.4,946.6 L697.4,946.7 L699.4,946.9 L701.4,947.0 L703.4,947.1 L705.4,947.2 L707.4,947.4 L709.4,947.5 L711.4,947.7 L713.3,947.8 L715.3,948.0 L717.3,948.1 L719.3,948.3 L721.3,948.5 L723.3,948.6 L725.3,948.8 L727.3,949.0 L729.3,949.2 L731.3,949.4 L733.3,949.6 L735.3,949.9 L737.2,950.1 L739.2,950.3 L741.2,950.5 L743.2,950.8 L745.2,951.0 L747.2,951.2 L749.2,951.5 L751.2,951.7 L753.1,952.0 L755.1,952.3 L757.1,952.5 L759.1,952.8 L761.1,953.0 L763.1,953.3 L765.0,953.6 L767.0,953.8 L769.0,954.1 L771.0,954.4 L773.0,954.6 L775.0,954.9 L776.9,955.2 L778.9,955.4 L780.9,955.7 L782.9,956.0 L784.9,956.2 L786.9,956.5 L788.8,956.7 L790.8,957.0 L792.8,957.3 L794.8,957.6 L796.8,957.8 L798.8,958.1 L800.7,958.4 L802.7,958.7 L804.7,958.9 L806.7,959.2 L808.7,959.5 L810.6,959.8 L812.6,960.1 L814.6,960.4 L816.6,960.7 L818.5,961.0 L820.5,961.4 L822.5,961.7 L824.5,962.0 L826.4,962.3 L828.4,962.7 L830.4,963.0 L832.4,963.4 L834.3,963.8 L836.3,964.1 L838.2,964.5 L840.2,964.9 L842.2,965.3 L844.1,965.7 L846.1,966.2 L848.0,966.6 L850.0,967.0 L851.9,967.5 L853.9,967.9 L855.8,968.4 L857.8,968.8 L859.7,969.3 L861.7,969.8 L863.6,970.2 L865.6,970.7 L867.5,971.2 L869.5,971.6 L871.4,972.1 L873.4,972.5 L875.3,973.0 L877.2,973.5 L879.2,973.9 L881.1,974.4 L883.1,974.9 L885.0,975.3 L887.0,975.8 L888.9,976.3 L890.9,976.8 L892.8,977.3 L894.7,977.7 L896.7,978.2 L898.6,978.7 L900.6,979.2 L902.5,979.6 L904.5,980.1 L906.4,980.5 L908.4,981.0 L910.3,981.4 L912.3,981.8 L914.3,982.1 L916.2,982.5 L918.2,982.8 L920.2,983.2 L922.1,983.5 L924.1,983.8 L926.1,984.2 L928.1,984.5 L930.0,984.8 L932.0,985.1 L934.0,985.3 L936.0,985.6 L938.0,985.9 L940.0,986.1 L941.9,986.3 L943.9,986.6 L945.9,986.8 L947.9,986.9 L949.9,987.1 L951.9,987.3 L953.9,987.4 L955.9,987.5 L957.9,987.6 L959.9,987.8 L961.9,987.9 L963.9,988.0 L965.9,988.1 L967.9,988.2 L969.9,988.2 L971.9,988.3 L973.9,988.4 L975.9,988.5 L977.9,988.6 L979.9,988.6 L981.9,988.7 L983.9,988.8 L985.9,988.9 L987.9,988.9 L989.9,989.0 L991.9,989.1 L993.9,989.1 L995.9,989.2 L997.9,989.2 L999.9,989.3 L1001.9,989.4 L1003.9,989.4 L1005.9,989.5 L1007.9,989.5 L1009.9,989.6 L1011.9,989.6 L1013.9,989.7 L1015.9,989.8 L1017.9,989.8 L1019.9,989.9 L1021.9,989.9 L1023.9,990.0 L1025.9,990.0 L1027.9,990.1 L1029.9,990.2 L1031.9,990.2 L1033.9,990.3 L1035.9,990.3 L1037.9,990.4 L1039.9,990.4 L1041.9,990.5 L1043.9,990.5 L1045.9,990.6 L1047.9,990.6 L1049.9,990.7 L1051.9,990.7 L1053.9,990.8 L1055.9,990.8 L1057.9,990.8 L1059.9,990.9 L1061.9,990.9 L1063.9,991.0 L1065.9,991.0 L1067.9,991.0 L1069.9,991.1 L1071.9,991.1 L1073.9,991.2 L1075.9,991.2 L1077.9,991.2 L1079.9,991.3 L1081.9,991.3 L1083.9,991.3 L1085.9,991.3 L1087.9,991.4 L1089.9,991.4 L1091.9,991.4 L1093.9,991.4 L1095.9,991.5 L1097.9,991.5 L1099.9,991.5 L1101.9,991.5 L1103.9,991.5 L1105.9,991.5 L1107.9,991.6 L1109.9,991.6 L1111.9,991.6 L1113.9,991.6 L1115.9,991.6 L1117.9,991.6 L1119.9,991.6 L1121.9,991.7 L1123.9,991.7 L1125.9,991.7 L1127.9,991.7 L1129.9,991.7 L1131.9,991.7 L1133.9,991.7 L1135.9,991.7 L1137.9,991.7 L1139.9,991.8 L1141.9,991.8 L1143.9,991.8 L1145.9,991.8 L1147.9,991.8 L1149.9,991.8 L1151.9,991.8 L1153.9,991.8 L1155.9,991.8 L1157.9,991.8 L1159.9,991.8 L1161.9,991.9 L1163.9,991.9 L1165.9,991.9 L1167.9,991.9 L1169.9,991.9 L1171.9,991.9 L1173.9,991.9 L1175.9,991.9 L1177.9,991.9 L1179.9,991.9 L1181.9,991.9 L1183.9,991.9 L1185.9,991.9 L1187.9,992.0 L1189.9,992.0 L1191.9,992.0 L1193.9,992.0 L1195.9,992.0 L1197.9,992.0 L1199.9,992.0 L1201.9,992.0 L1203.9,992.0 L1205.9,992.0 L1207.9,992.0 L1209.9,992.0 L1211.9,992.0 L1213.9,992.1 L1215.9,992.1 L1217.9,992.1 L1219.9,992.1 L1221.9,992.1 L1223.9,992.1 L1225.9,992.1 L1227.9,992.1 L1229.9,992.1 L1231.9,992.1 L1233.9,992.1 L1235.9,992.1 L1237.9,992.1 L1239.9,992.1 L1241.9,992.2 L1243.9,992.2 L1245.9,992.2 L1247.9,992.2 L1250.0,992.2 L1252.0,992.2 L1254.0,992.2 L1256.0,992.2 L1258.0,992.2 L1260.0,992.2 L1262.0,992.2 L1264.0,992.2 L1266.0,992.2 L1268.0,992.2 L1270.0,992.2 L1272.0,992.3 L1274.0,992.3 L1276.0,992.3 L1278.0,992.3 L1280.0,992.3 L1282.0,992.3 L1284.0,992.3 L1286.0,992.3 L1288.0,992.3 L1290.0,992.3 L1292.0,992.3 L1294.0,992.3 L1296.0,992.3 L1298.0,992.3 L1300.0,992.3 L1302.0,992.3 L1304.0,992.4 L1306.0,992.4 L1308.0,992.4 L1310.0,992.4 L1312.0,992.4 L1314.0,992.4 L1316.0,992.4 L1318.0,992.4 L1320.0,992.4 L1322.0,992.4 L1324.0,992.4 L1326.0,992.4 L1328.0,992.4 L1330.0,992.4 L1332.0,992.4 L1334.0,992.4 L1336.0,992.4 L1338.0,992.4 L1340.0,992.4 L1342.0,992.4 L1344.0,992.5 L1346.0,992.5 L1348.0,992.5 L1350.0,992.5 L1352.0,992.5 L1354.0,992.5 L1356.0,992.5 L1358.0,992.5 L1360.0,992.5 L1362.0,992.5 L1364.0,992.5 L1366.0,992.5 L1368.0,992.5" fill="none" stroke="#f21e1e" stroke-width="9.799999999999999" stroke-linecap="butt" stroke-linejoin="round" clip-path="url(#cin)"/>
<path d="M157.5,140.3 L157.8,142.3 L158.2,144.2 L158.6,146.2 L159.0,148.1 L159.4,150.1 L159.9,152.0 L160.4,154.0 L160.9,155.9 L161.5,157.8 L162.1,159.7 L162.7,161.7 L163.3,163.6 L163.9,165.4 L164.6,167.3 L165.3,169.2 L166.0,171.1 L166.7,173.0 L167.4,174.8 L168.2,176.7 L169.0,178.5 L169.8,180.3 L170.6,182.2 L171.4,184.0 L172.2,185.8 L173.1,187.6 L173.9,189.4 L174.8,191.3 L175.6,193.1 L176.5,194.8 L177.4,196.6 L178.3,198.4 L179.2,200.2 L180.2,202.0 L181.1,203.8 L182.0,205.5 L182.9,207.3 L183.9,209.1 L184.8,210.8 L185.8,212.6 L186.8,214.3 L187.7,216.1 L188.7,217.8 L189.6,219.6 L190.6,221.3 L191.6,223.1 L192.6,224.8 L193.5,226.6 L194.5,228.3 L195.5,230.1 L196.5,231.8 L197.4,233.6 L198.4,235.3 L199.4,237.1 L200.4,238.8 L201.3,240.6 L202.3,242.3 L203.2,244.1 L204.2,245.8 L205.2,247.6 L206.1,249.4 L207.1,251.1 L208.0,252.9 L208.9,254.7 L209.9,256.4 L210.8,258.2 L211.7,260.0 L212.6,261.7 L213.5,263.5 L214.5,265.3 L215.4,267.1 L216.2,268.9 L217.1,270.7 L218.0,272.5 L218.9,274.3 L219.8,276.1 L220.7,277.9 L221.5,279.7 L222.4,281.5 L223.2,283.3 L224.1,285.1 L224.9,286.9 L225.8,288.7 L226.6,290.5 L227.4,292.4 L228.3,294.2 L229.1,296.0 L229.9,297.8 L230.7,299.7 L231.5,301.5 L232.3,303.3 L233.1,305.2 L233.9,307.0 L234.7,308.8 L235.5,310.7 L236.3,312.5 L237.0,314.4 L237.8,316.2 L238.6,318.1 L239.3,319.9 L240.1,321.8 L240.8,323.6 L241.6,325.5 L242.3,327.4 L243.0,329.2 L243.8,331.1 L244.5,332.9 L245.2,334.8 L245.9,336.7 L246.7,338.5 L247.4,340.4 L248.1,342.3 L248.8,344.2 L249.5,346.0 L250.2,347.9 L250.8,349.8 L251.5,351.7 L252.2,353.6 L252.9,355.4 L253.6,357.3 L254.2,359.2 L254.9,361.1 L255.5,363.0 L256.2,364.9 L256.9,366.8 L257.5,368.7 L258.1,370.6 L258.8,372.4 L259.4,374.3 L260.1,376.2 L260.7,378.1 L261.3,380.0 L261.9,381.9 L262.6,383.8 L263.2,385.7 L263.8,387.7 L264.4,389.6 L265.0,391.5 L265.6,393.4 L266.2,395.3 L266.8,397.2 L267.4,399.1 L268.0,401.0 L268.6,402.9 L269.2,404.8 L269.7,406.8 L270.3,408.7 L270.9,410.6 L271.5,412.5 L272.0,414.4 L272.6,416.3 L273.2,418.3 L273.7,420.2 L274.3,422.1 L274.9,424.0 L275.4,425.9 L276.0,427.9 L276.5,429.8 L277.1,431.7 L277.6,433.6 L278.1,435.6 L278.7,437.5 L279.2,439.4 L279.8,441.3 L280.3,443.3 L280.8,445.2 L281.4,447.1 L281.9,449.1 L282.4,451.0 L282.9,452.9 L283.5,454.9 L284.0,456.8 L284.5,458.7 L285.0,460.6 L285.6,462.6 L286.1,464.5 L286.6,466.4 L287.1,468.4 L287.6,470.3 L288.1,472.3 L288.6,474.2 L289.1,476.1 L289.7,478.1 L290.2,480.0 L290.7,481.9 L291.2,483.9 L291.7,485.8 L292.2,487.7 L292.7,489.7 L293.2,491.6 L293.7,493.5 L294.2,495.5 L294.7,497.4 L295.2,499.4 L295.7,501.3 L296.2,503.2 L296.7,505.2 L297.2,507.1 L297.7,509.0 L298.2,511.0 L298.7,512.9 L299.1,514.9 L299.6,516.8 L300.1,518.7 L300.6,520.7 L301.1,522.6 L301.6,524.6 L302.1,526.5 L302.6,528.4 L303.1,530.4 L303.6,532.3 L304.1,534.3 L304.5,536.2 L305.0,538.1 L305.5,540.1 L306.0,542.0 L306.5,544.0 L307.0,545.9 L307.5,547.8 L307.9,549.8 L308.4,551.7 L308.9,553.7 L309.4,555.6 L309.9,557.6 L310.4,559.5 L310.9,561.4 L311.3,563.4 L311.8,565.3 L312.3,567.3 L312.8,569.2 L313.3,571.1 L313.8,573.1 L314.2,575.0 L314.7,577.0 L315.2,578.9 L315.7,580.9 L316.2,582.8 L316.7,584.7 L317.1,586.7 L317.6,588.6 L318.1,590.6 L318.6,592.5 L319.1,594.4 L319.6,596.4 L320.1,598.3 L320.5,600.3 L321.0,602.2 L321.5,604.1 L322.0,606.1 L322.5,608.0 L323.0,610.0 L323.5,611.9 L323.9,613.8 L324.4,615.8 L324.9,617.7 L325.4,619.7 L325.9,621.6 L326.4,623.6 L326.9,625.5 L327.4,627.4 L327.9,629.4 L328.4,631.3 L328.9,633.2 L329.3,635.2 L329.8,637.1 L330.3,639.1 L330.8,641.0 L331.3,642.9 L331.8,644.9 L332.3,646.8 L332.8,648.8 L333.3,650.7 L333.8,652.6 L334.3,654.6 L334.8,656.5 L335.3,658.4 L335.8,660.4 L336.3,662.3 L336.8,664.2 L337.3,666.2 L337.8,668.1 L338.4,670.1 L338.9,672.0 L339.4,673.9 L339.9,675.9 L340.4,677.8 L340.9,679.7 L341.4,681.7 L341.9,683.6 L342.5,685.5 L343.0,687.5 L343.5,689.4 L344.0,691.3 L344.5,693.3 L345.1,695.2 L345.6,697.1 L346.1,699.1 L346.6,701.0 L347.2,702.9 L347.7,704.8 L348.2,706.8 L348.7,708.7 L349.3,710.6 L349.8,712.6 L350.4,714.5 L350.9,716.4 L351.4,718.3 L352.0,720.3 L352.5,722.2 L353.1,724.1 L353.6,726.0 L354.2,728.0 L354.7,729.9 L355.3,731.8 L355.9,733.7 L356.4,735.6 L357.0,737.6 L357.6,739.5 L358.2,741.4 L358.7,743.3 L359.3,745.2 L359.9,747.1 L360.5,749.0 L361.1,750.9 L361.7,752.9 L362.3,754.8 L362.9,756.7 L363.5,758.6 L364.2,760.5 L364.8,762.4 L365.4,764.3 L366.0,766.2 L366.7,768.1 L367.3,770.0 L368.0,771.9 L368.6,773.7 L369.3,775.6 L370.0,777.5 L370.6,779.4 L371.3,781.3 L372.0,783.2 L372.7,785.1 L373.4,786.9 L374.1,788.8 L374.8,790.7 L375.5,792.5 L376.2,794.4 L376.9,796.3 L377.6,798.1 L378.4,800.0 L379.1,801.9 L379.9,803.7 L380.6,805.6 L381.4,807.4 L382.2,809.3 L382.9,811.1 L383.7,813.0 L384.5,814.8 L385.3,816.6 L386.1,818.5 L386.9,820.3 L387.7,822.1 L388.6,823.9 L389.4,825.8 L390.2,827.6 L391.1,829.4 L391.9,831.2 L392.8,833.0 L393.6,834.8 L394.5,836.6 L395.4,838.4 L396.3,840.2 L397.1,842.0 L398.0,843.8 L398.9,845.6 L399.7,847.4 L400.6,849.2 L401.5,851.0 L402.3,852.8 L403.2,854.6 L404.1,856.4 L405.1,858.2 L406.1,859.9 L407.1,861.6 L408.1,863.4 L409.1,865.1 L410.2,866.8 L411.2,868.5 L412.3,870.1 L413.4,871.8 L414.6,873.4 L415.7,875.1 L416.9,876.7 L418.1,878.3 L419.3,879.9 L420.6,881.5 L421.8,883.0 L423.1,884.5 L424.4,886.0 L425.7,887.5 L427.1,889.0 L428.5,890.5 L429.9,891.9 L431.3,893.3 L432.7,894.7 L434.2,896.0 L435.7,897.4 L437.2,898.7 L438.7,900.0 L440.3,901.2 L441.9,902.5 L443.5,903.7 L445.1,904.9 L446.7,906.0 L448.3,907.2 L450.0,908.3 L451.6,909.4 L453.3,910.5 L455.0,911.6 L456.7,912.6 L458.4,913.7 L460.1,914.7 L461.9,915.7 L463.6,916.7 L465.4,917.6 L467.1,918.6 L468.9,919.5 L470.7,920.4 L472.5,921.3 L474.3,922.2 L476.1,923.0 L477.9,923.9 L479.7,924.7 L481.6,925.5 L483.4,926.2 L485.3,927.0 L487.1,927.7 L489.0,928.4 L490.9,929.1 L492.7,929.8 L494.6,930.4 L496.5,931.1 L498.4,931.7 L500.4,932.3 L502.3,932.8 L504.2,933.4 L506.1,933.9 L508.1,934.4 L510.0,934.9 L511.9,935.4 L513.9,935.9 L515.8,936.3 L517.8,936.7 L519.7,937.1 L521.7,937.5 L523.7,937.9 L525.6,938.3 L527.6,938.6 L529.6,938.9 L531.6,939.2 L533.5,939.5 L535.5,939.8 L537.5,940.1 L539.5,940.3 L541.5,940.5 L543.5,940.8 L545.5,941.0 L547.5,941.2 L549.4,941.3 L551.4,941.5 L553.4,941.7 L555.4,941.8 L557.4,941.9 L559.4,942.0 L561.4,942.1 L563.4,942.2 L565.4,942.3 L567.4,942.4 L569.4,942.5 L571.4,942.6 L573.4,942.7 L575.4,942.7 L577.4,942.8 L579.4,942.9 L581.4,943.0 L583.4,943.0 L585.4,943.1 L587.4,943.2 L589.4,943.2 L591.4,943.3 L593.4,943.3 L595.4,943.4 L597.4,943.4 L599.4,943.5 L601.4,943.5 L603.4,943.6 L605.4,943.6 L607.4,943.6 L609.4,943.7 L611.4,943.7 L613.4,943.7 L615.4,943.7 L617.4,943.8 L619.4,943.8 L621.4,943.8 L623.4,943.8 L625.4,943.9 L627.4,943.9 L629.4,943.9 L631.4,944.0 L633.4,944.0 L635.4,944.0 L637.4,944.1 L639.4,944.1 L641.4,944.1 L643.4,944.2 L645.4,944.2 L647.4,944.3 L649.4,944.4 L651.4,944.4 L653.4,944.5 L655.4,944.6 L657.4,944.6 L659.4,944.7 L661.4,944.8 L663.4,944.9 L665.4,945.0 L667.4,945.1 L669.4,945.1 L671.4,945.2 L673.4,945.3 L675.4,945.4 L677.4,945.5 L679.4,945.7 L681.4,945.8 L683.4,945.9 L685.4,946.0 L687.4,946.1 L689.4,946.2 L691.4,946.3 L693.4,946.5 L695.4,946.6 L697.4,946.7 L699.4,946.9 L701.4,947.0 L703.4,947.1 L705.4,947.2 L707.4,947.4 L709.4,947.5 L711.4,947.7 L713.3,947.8 L715.3,948.0 L717.3,948.1 L719.3,948.3 L721.3,948.5 L723.3,948.6 L725.3,948.8 L727.3,949.0 L729.3,949.2 L731.3,949.4 L733.3,949.6 L735.3,949.9 L737.2,950.1 L739.2,950.3 L741.2,950.5 L743.2,950.8 L745.2,951.0 L747.2,951.2 L749.2,951.5 L751.2,951.7 L753.1,952.0 L755.1,952.3 L757.1,952.5 L759.1,952.8 L761.1,953.0 L763.1,953.3 L765.0,953.6 L767.0,953.8 L769.0,954.1 L771.0,954.4 L773.0,954.6 L775.0,954.9 L776.9,955.2 L778.9,955.4 L780.9,955.7 L782.9,956.0 L784.9,956.2 L786.9,956.5 L788.8,956.7 L790.8,957.0 L792.8,957.3 L794.8,957.6 L796.8,957.8 L798.8,958.1 L800.7,958.4 L802.7,958.7 L804.7,958.9 L806.7,959.2 L808.7,959.5 L810.6,959.8 L812.6,960.1 L814.6,960.4 L816.6,960.7 L818.5,961.0 L820.5,961.4 L822.5,961.7 L824.5,962.0 L826.4,962.3 L828.4,962.7 L830.4,963.0 L832.4,963.4 L834.3,963.8 L836.3,964.1 L838.2,964.5 L840.2,964.9 L842.2,965.3 L844.1,965.7 L846.1,966.2 L848.0,966.6 L850.0,967.0 L851.9,967.5 L853.9,967.9 L855.8,968.4 L857.8,968.8 L859.7,969.3 L861.7,969.8 L863.6,970.2 L865.6,970.7 L867.5,971.2 L869.5,971.6 L871.4,972.1 L873.4,972.5 L875.3,973.0 L877.2,973.5 L879.2,973.9 L881.1,974.4 L883.1,974.9 L885.0,975.3 L887.0,975.8 L888.9,976.3 L890.9,976.8 L892.8,977.3 L894.7,977.7 L896.7,978.2 L898.6,978.7 L900.6,979.2 L902.5,979.6 L904.5,980.1 L906.4,980.5 L908.4,981.0 L910.3,981.4 L912.3,981.8 L914.3,982.1 L916.2,982.5 L918.2,982.8 L920.2,983.2 L922.1,983.5 L924.1,983.8 L926.1,984.2 L928.1,984.5 L930.0,984.8 L932.0,985.1 L934.0,985.3 L936.0,985.6 L938.0,985.9 L940.0,986.1 L941.9,986.3 L943.9,986.6 L945.9,986.8 L947.9,986.9 L949.9,987.1 L951.9,987.3 L953.9,987.4 L955.9,987.5 L957.9,987.6 L959.9,987.8 L961.9,987.9 L963.9,988.0 L965.9,988.1 L967.9,988.2 L969.9,988.2 L971.9,988.3 L973.9,988.4 L975.9,988.5 L977.9,988.6 L979.9,988.6 L981.9,988.7 L983.9,988.8 L985.9,988.9 L987.9,988.9 L989.9,989.0 L991.9,989.1 L993.9,989.1 L995.9,989.2 L997.9,989.2 L999.9,989.3 L1001.9,989.4 L1003.9,989.4 L1005.9,989.5 L1007.9,989.5 L1009.9,989.6 L1011.9,989.6 L1013.9,989.7 L1015.9,989.8 L1017.9,989.8 L1019.9,989.9 L1021.9,989.9 L1023.9,990.0 L1025.9,990.0 L1027.9,990.1 L1029.9,990.2 L1031.9,990.2 L1033.9,990.3 L1035.9,990.3 L1037.9,990.4 L1039.9,990.4 L1041.9,990.5 L1043.9,990.5 L1045.9,990.6 L1047.9,990.6 L1049.9,990.7 L1051.9,990.7 L1053.9,990.8 L1055.9,990.8 L1057.9,990.8 L1059.9,990.9 L1061.9,990.9 L1063.9,991.0 L1065.9,991.0 L1067.9,991.0 L1069.9,991.1 L1071.9,991.1 L1073.9,991.2 L1075.9,991.2 L1077.9,991.2 L1079.9,991.3 L1081.9,991.3 L1083.9,991.3 L1085.9,991.3 L1087.9,991.4 L1089.9,991.4 L1091.9,991.4 L1093.9,991.4 L1095.9,991.5 L1097.9,991.5 L1099.9,991.5 L1101.9,991.5 L1103.9,991.5 L1105.9,991.5 L1107.9,991.6 L1109.9,991.6 L1111.9,991.6 L1113.9,991.6 L1115.9,991.6 L1117.9,991.6 L1119.9,991.6 L1121.9,991.7 L1123.9,991.7 L1125.9,991.7 L1127.9,991.7 L1129.9,991.7 L1131.9,991.7 L1133.9,991.7 L1135.9,991.7 L1137.9,991.7 L1139.9,991.8 L1141.9,991.8 L1143.9,991.8 L1145.9,991.8 L1147.9,991.8 L1149.9,991.8 L1151.9,991.8 L1153.9,991.8 L1155.9,991.8 L1157.9,991.8 L1159.9,991.8 L1161.9,991.9 L1163.9,991.9 L1165.9,991.9 L1167.9,991.9 L1169.9,991.9 L1171.9,991.9 L1173.9,991.9 L1175.9,991.9 L1177.9,991.9 L1179.9,991.9 L1181.9,991.9 L1183.9,991.9 L1185.9,991.9 L1187.9,992.0 L1189.9,992.0 L1191.9,992.0 L1193.9,992.0 L1195.9,992.0 L1197.9,992.0 L1199.9,992.0 L1201.9,992.0 L1203.9,992.0 L1205.9,992.0 L1207.9,992.0 L1209.9,992.0 L1211.9,992.0 L1213.9,992.1 L1215.9,992.1 L1217.9,992.1 L1219.9,992.1 L1221.9,992.1 L1223.9,992.1 L1225.9,992.1 L1227.9,992.1 L1229.9,992.1 L1231.9,992.1 L1233.9,992.1 L1235.9,992.1 L1237.9,992.1 L1239.9,992.1 L1241.9,992.2 L1243.9,992.2 L1245.9,992.2 L1247.9,992.2 L1250.0,992.2 L1252.0,992.2 L1254.0,992.2 L1256.0,992.2 L1258.0,992.2 L1260.0,992.2 L1262.0,992.2 L1264.0,992.2 L1266.0,992.2 L1268.0,992.2 L1270.0,992.2 L1272.0,992.3 L1274.0,992.3 L1276.0,992.3 L1278.0,992.3 L1280.0,992.3 L1282.0,992.3 L1284.0,992.3 L1286.0,992.3 L1288.0,992.3 L1290.0,992.3 L1292.0,992.3 L1294.0,992.3 L1296.0,992.3 L1298.0,992.3 L1300.0,992.3 L1302.0,992.3 L1304.0,992.4 L1306.0,992.4 L1308.0,992.4 L1310.0,992.4 L1312.0,992.4 L1314.0,992.4 L1316.0,992.4 L1318.0,992.4 L1320.0,992.4 L1322.0,992.4 L1324.0,992.4 L1326.0,992.4 L1328.0,992.4 L1330.0,992.4 L1332.0,992.4 L1334.0,992.4 L1336.0,992.4 L1338.0,992.4 L1340.0,992.4 L1342.0,992.4 L1344.0,992.5 L1346.0,992.5 L1348.0,992.5 L1350.0,992.5 L1352.0,992.5 L1354.0,992.5 L1356.0,992.5 L1358.0,992.5 L1360.0,992.5 L1362.0,992.5 L1364.0,992.5 L1366.0,992.5 L1368.0,992.5" fill="none" stroke="#f00" stroke-width="9.799999999999999" stroke-linecap="butt" stroke-linejoin="round" clip-path="url(#cout)"/>
<line x1="175.9" y1="280.4" x2="548" y2="142.8" stroke="#000" stroke-width="4" stroke-dasharray="5.3 4.96"/>
<line x1="167.3" y1="311.6" x2="645" y2="146.4" stroke="#000" stroke-width="10.5" stroke-dasharray="12.5 11.4"/>
<g stroke="#000" stroke-width="3.5" fill="none">
<line x1="135" y1="19" x2="1369" y2="19"/>
<line x1="155" y1="17.3" x2="155" y2="999.5"/>
<line x1="153.3" y1="997.7" x2="1371.5" y2="997.7"/>
<line x1="135" y1="997.8" x2="155" y2="997.8"/>
<line x1="145" y1="936.6" x2="155" y2="936.6"/>
<line x1="135" y1="875.4" x2="155" y2="875.4"/>
<line x1="145" y1="814.2" x2="155" y2="814.2"/>
<line x1="135" y1="753.0" x2="155" y2="753.0"/>
<line x1="145" y1="691.8" x2="155" y2="691.8"/>
<line x1="135" y1="630.6" x2="155" y2="630.6"/>
<line x1="145" y1="569.5" x2="155" y2="569.5"/>
<line x1="135" y1="508.3" x2="155" y2="508.3"/>
<line x1="145" y1="447.1" x2="155" y2="447.1"/>
<line x1="135" y1="385.9" x2="155" y2="385.9"/>
<line x1="145" y1="324.7" x2="155" y2="324.7"/>
<line x1="135" y1="263.5" x2="155" y2="263.5"/>
<line x1="145" y1="202.3" x2="155" y2="202.3"/>
<line x1="135" y1="141.1" x2="155" y2="141.1"/>
<line x1="145" y1="79.9" x2="155" y2="79.9"/>
<line x1="135" y1="18.7" x2="155" y2="18.7"/>
<line x1="155.0" y1="997.7" x2="155.0" y2="1007.2"/>
<line x1="264.1" y1="997.7" x2="264.1" y2="1016.7"/>
<line x1="374.7" y1="997.7" x2="374.7" y2="1007.2"/>
<line x1="485.3" y1="997.7" x2="485.3" y2="1016.7"/>
<line x1="595.9" y1="997.7" x2="595.9" y2="1007.2"/>
<line x1="706.5" y1="997.7" x2="706.5" y2="1016.7"/>
<line x1="817.1" y1="997.7" x2="817.1" y2="1007.2"/>
<line x1="927.7" y1="997.7" x2="927.7" y2="1016.7"/>
<line x1="1038.3" y1="997.7" x2="1038.3" y2="1007.2"/>
<line x1="1148.9" y1="997.7" x2="1148.9" y2="1016.7"/>
<line x1="1259.5" y1="997.7" x2="1259.5" y2="1007.2"/>
<line x1="1370.1" y1="997.7" x2="1370.1" y2="1016.7"/>
</g>
<g stroke="#f00" stroke-width="3" fill="none">
<line x1="1369.5" y1="17.3" x2="1369.5" y2="997.7"/>
<line x1="1369.5" y1="997.3" x2="1388.5" y2="997.3"/>
<line x1="1369.5" y1="908.4" x2="1379.0" y2="908.4"/>
<line x1="1369.5" y1="819.4" x2="1388.5" y2="819.4"/>
<line x1="1369.5" y1="730.5" x2="1379.0" y2="730.5"/>
<line x1="1369.5" y1="641.6" x2="1388.5" y2="641.6"/>
<line x1="1369.5" y1="552.6" x2="1379.0" y2="552.6"/>
<line x1="1369.5" y1="463.7" x2="1388.5" y2="463.7"/>
<line x1="1369.5" y1="374.8" x2="1379.0" y2="374.8"/>
<line x1="1369.5" y1="285.9" x2="1388.5" y2="285.9"/>
<line x1="1369.5" y1="196.9" x2="1379.0" y2="196.9"/>
<line x1="1369.5" y1="108.0" x2="1388.5" y2="108.0"/>
<line x1="1369.5" y1="19.1" x2="1379.0" y2="19.1"/>
</g>
<text x="48.7" y="1009.3" font-size="36.50" fill="#000" text-anchor="start" font-family="Liberation Sans, sans-serif" font-weight="bold">-120</text>
<text x="48.7" y="886.9" font-size="36.50" fill="#000" text-anchor="start" font-family="Liberation Sans, sans-serif" font-weight="bold">-100</text>
<text x="68.9" y="764.5" font-size="36.50" fill="#000" text-anchor="start" font-family="Liberation Sans, sans-serif" font-weight="bold">-80</text>
<text x="68.9" y="642.1" font-size="36.50" fill="#000" text-anchor="start" font-family="Liberation Sans, sans-serif" font-weight="bold">-60</text>
<text x="68.9" y="519.8" font-size="36.50" fill="#000" text-anchor="start" font-family="Liberation Sans, sans-serif" font-weight="bold">-40</text>
<text x="68.9" y="397.4" font-size="36.50" fill="#000" text-anchor="start" font-family="Liberation Sans, sans-serif" font-weight="bold">-20</text>
<text x="101.4" y="275.0" font-size="36.50" fill="#000" text-anchor="start" font-family="Liberation Sans, sans-serif" font-weight="bold">0</text>
<text x="81.1" y="152.6" font-size="36.50" fill="#000" text-anchor="start" font-family="Liberation Sans, sans-serif" font-weight="bold">20</text>
<text x="81.1" y="30.2" font-size="36.50" fill="#000" text-anchor="start" font-family="Liberation Sans, sans-serif" font-weight="bold">40</text>
<text x="244.0" y="1059.2" font-size="36.50" fill="#000" text-anchor="start" font-family="Liberation Sans, sans-serif" font-weight="bold">50</text>
<text x="454.5" y="1059.2" font-size="36.50" fill="#000" text-anchor="start" font-family="Liberation Sans, sans-serif" font-weight="bold">100</text>
<text x="675.7" y="1059.2" font-size="36.50" fill="#000" text-anchor="start" font-family="Liberation Sans, sans-serif" font-weight="bold">150</text>
<text x="897.4" y="1059.2" font-size="36.50" fill="#000" text-anchor="start" font-family="Liberation Sans, sans-serif" font-weight="bold">200</text>
<text x="1118.6" y="1059.2" font-size="36.50" fill="#000" text-anchor="start" font-family="Liberation Sans, sans-serif" font-weight="bold">250</text>
<text x="1340.0" y="1059.2" font-size="36.50" fill="#000" text-anchor="start" font-family="Liberation Sans, sans-serif" font-weight="bold">300</text>
<text x="1402.3" y="1007.8" font-size="36.50" fill="#f00" text-anchor="start" font-family="Liberation Sans, sans-serif" font-weight="bold">0</text>
<text x="1402.5" y="829.9" font-size="36.50" fill="#f00" text-anchor="start" font-family="Liberation Sans, sans-serif" font-weight="bold">20</text>
<text x="1403.3" y="652.0" font-size="36.50" fill="#f00" text-anchor="start" font-family="Liberation Sans, sans-serif" font-weight="bold">40</text>
<text x="1402.4" y="474.2" font-size="36.50" fill="#f00" text-anchor="start" font-family="Liberation Sans, sans-serif" font-weight="bold">60</text>
<text x="1402.6" y="296.3" font-size="36.50" fill="#f00" text-anchor="start" font-family="Liberation Sans, sans-serif" font-weight="bold">80</text>
<text x="1401.5" y="118.4" font-size="36.50" fill="#f00" text-anchor="start" font-family="Liberation Sans, sans-serif" font-weight="bold">100</text>
<text x="594.4" y="1139.4" font-size="44.95" fill="#000" text-anchor="start" textLength="337.0" lengthAdjust="spacingAndGlyphs" font-family="Liberation Sans, sans-serif" font-weight="bold">Temperature (ºC)</text>
<text transform="translate(36.1,597.6) rotate(-90)" font-size="42.91" fill="#000" textLength="176.7" lengthAdjust="spacingAndGlyphs" font-family="Liberation Sans, sans-serif" font-weight="bold">DTA (uV)</text>
<text transform="translate(1463.7,427.2) rotate(90)" font-size="43.64" fill="#f00" textLength="180.7" lengthAdjust="spacingAndGlyphs" font-family="Liberation Sans, sans-serif" font-weight="bold">Mass (%)</text>
<text transform="translate(43.1,698.1) rotate(-90)" font-size="33.86" fill="#000" textLength="78.8" lengthAdjust="spacingAndGlyphs" font-family="Liberation Sans, sans-serif">endo</text>
<line x1="49.7" y1="612.5" x2="49.7" y2="755" stroke="#222" stroke-width="1.7"/>
<path d="M43,751.5 L56.6,751.5 L49.8,777 Z" fill="#000"/>
<text x="272.8" y="372.5" font-size="28.36" fill="#000" text-anchor="start" textLength="115.7" lengthAdjust="spacingAndGlyphs" font-family="Liberation Sans, sans-serif" font-weight="bold">1.48KJ g</text>
<text x="387.9" y="352.7" font-size="29.38" fill="#000" text-anchor="start" textLength="20.3" lengthAdjust="spacingAndGlyphs" font-family="Liberation Sans, sans-serif" font-weight="bold">-1</text>
<text x="331.6" y="599.3" font-size="29.09" fill="#000" text-anchor="start" textLength="114.6" lengthAdjust="spacingAndGlyphs" font-family="Liberation Sans, sans-serif" font-weight="bold">1.70KJ g</text>
<text x="446.1" y="578.8" font-size="28.65" fill="#000" text-anchor="start" textLength="20.8" lengthAdjust="spacingAndGlyphs" font-family="Liberation Sans, sans-serif" font-weight="bold">-1</text>
<text x="181.9" y="705.6" font-size="34.04" fill="#000" text-anchor="start" textLength="91.7" lengthAdjust="spacingAndGlyphs" font-family="Liberation Sans, sans-serif" font-weight="bold">~12ºC</text>
<line x1="295" y1="688" x2="312" y2="687" stroke="#000" stroke-width="1.8"/>
<path d="M308,681.6 L332.7,685.5 L309,693.4 Z" fill="#000"/>
<text x="428.1" y="877.5" font-size="33.00" fill="#000" text-anchor="start" font-family="Liberation Serif, serif">Δ</text>
<text x="445.8" y="877.5" font-size="32.83" fill="#000" text-anchor="start" textLength="132.0" lengthAdjust="spacingAndGlyphs" font-family="Liberation Sans, sans-serif" font-weight="bold">m 93.4%</text>
<text x="239.6" y="948.0" font-size="33.00" fill="#000" text-anchor="start" font-family="Liberation Serif, serif">Δ</text>
<text x="257.3" y="948.0" font-size="32.54" fill="#000" text-anchor="start" textLength="132.2" lengthAdjust="spacingAndGlyphs" font-family="Liberation Sans, sans-serif" font-weight="bold">m 92.8%</text>
<text x="710.9" y="851.0" font-size="32.73" fill="#000" text-anchor="start" textLength="249.0" lengthAdjust="spacingAndGlyphs" font-family="Liberation Sans, sans-serif" font-weight="bold">~150ºC: thermal</text>
<text x="711.3" y="914.1" font-size="31.17" fill="#000" text-anchor="start" textLength="233.0" lengthAdjust="spacingAndGlyphs" font-family="Liberation Sans, sans-serif" font-weight="bold">decomposition</text>
<line x1="713" y1="927.5" x2="1032" y2="927.5" stroke="#000" stroke-width="1.8"/>
<path d="M1028.3,921.2 L1053.5,927.5 L1028.3,933.8 Z" fill="#000"/>
<g stroke-linecap="round">
<line x1="1017" y1="374.3" x2="1089.5" y2="374.3" stroke="#000" stroke-width="4.8"/>
<line x1="1017.5" y1="415.4" x2="1088.6" y2="415.4" stroke="#000" stroke-width="10.6"/>
<line x1="1017" y1="456.1" x2="1089.5" y2="456.1" stroke="#f00" stroke-width="5.2"/>
<line x1="1017.5" y1="496.6" x2="1088.6" y2="496.6" stroke="#f00" stroke-width="9.799999999999999"/>
</g>
<text x="1098.7" y="385.5" font-size="32.58" fill="#000" text-anchor="start" textLength="153.4" lengthAdjust="spacingAndGlyphs" font-family="Liberation Sans, sans-serif" font-weight="bold">DTA - HS1</text>
<text x="1098.7" y="426.6" font-size="32.58" fill="#000" text-anchor="start" textLength="157.0" lengthAdjust="spacingAndGlyphs" font-family="Liberation Sans, sans-serif" font-weight="bold">DTA - HS2</text>
<text x="1100.6" y="466.7" font-size="32.58" fill="#000" text-anchor="start" textLength="131.3" lengthAdjust="spacingAndGlyphs" font-family="Liberation Sans, sans-serif" font-weight="bold">TG - HS1</text>
<text x="1100.6" y="507.8" font-size="32.58" fill="#000" text-anchor="start" textLength="135.1" lengthAdjust="spacingAndGlyphs" font-family="Liberation Sans, sans-serif" font-weight="bold">TG - HS2</text>
</svg>
</body></html>
